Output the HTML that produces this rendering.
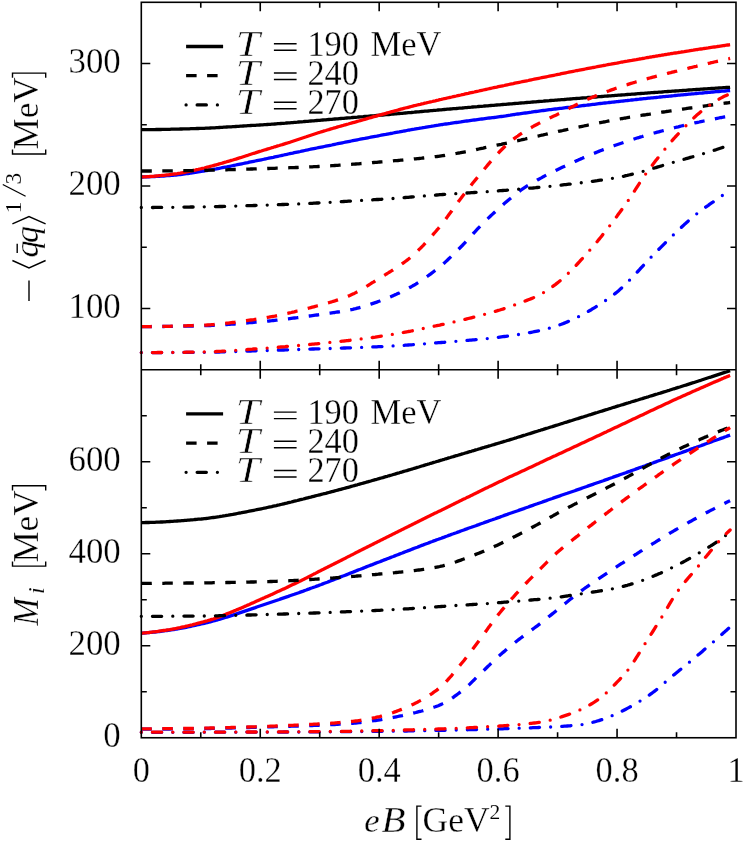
<!DOCTYPE html>
<html><head><meta charset="utf-8"><title>chart</title>
<style>
html,body{margin:0;padding:0;background:#fff;}
body{width:747px;height:843px;overflow:hidden;}
svg{display:block;will-change:transform;}
svg text{font-family:"Liberation Serif",serif;font-size:33.5px;fill:#000;stroke:#fff;stroke-width:0.3px;}
svg text.t{stroke-width:0.55px;}
svg text.s{stroke-width:0.1px;}
</style></head><body>
<svg width="747" height="843" viewBox="0 0 747 843">
<rect width="747" height="843" fill="#fff"/>
<g fill="none" stroke-width="3.3" stroke-linejoin="round">
<path d="M141.3 129.7 L142.8 129.7 L144.3 129.7 L145.8 129.7 L147.3 129.7 L148.8 129.6 L150.3 129.6 L151.8 129.6 L153.3 129.6 L154.8 129.6 L156.3 129.5 L157.8 129.5 L159.3 129.5 L160.8 129.5 L162.3 129.4 L163.8 129.4 L165.3 129.4 L166.8 129.3 L168.3 129.3 L169.8 129.3 L171.3 129.2 L172.8 129.2 L174.3 129.2 L175.8 129.1 L177.3 129.1 L178.8 129.1 L180.3 129.0 L181.8 129.0 L183.3 128.9 L184.8 128.9 L186.3 128.8 L187.8 128.8 L189.3 128.8 L190.8 128.7 L192.3 128.7 L193.8 128.6 L195.3 128.6 L196.8 128.5 L198.3 128.5 L199.8 128.4 L201.3 128.4 L202.8 128.3 L204.3 128.3 L205.8 128.2 L207.3 128.1 L208.8 128.1 L210.3 128.0 L211.8 127.9 L213.3 127.8 L214.8 127.8 L216.3 127.7 L217.8 127.6 L219.3 127.5 L220.8 127.4 L222.3 127.3 L223.8 127.2 L225.3 127.1 L226.8 127.0 L228.3 126.9 L229.8 126.9 L231.3 126.8 L232.8 126.7 L234.3 126.6 L235.8 126.5 L237.3 126.4 L238.8 126.3 L240.3 126.2 L241.8 126.1 L243.3 126.0 L244.8 125.9 L246.3 125.8 L247.8 125.7 L249.3 125.6 L250.8 125.5 L252.3 125.4 L253.8 125.3 L255.3 125.3 L256.8 125.2 L258.3 125.1 L259.8 125.0 L261.3 124.9 L262.8 124.8 L264.3 124.7 L265.8 124.6 L267.3 124.5 L268.8 124.4 L270.3 124.3 L271.8 124.2 L273.3 124.1 L274.8 124.0 L276.3 123.9 L277.8 123.7 L279.3 123.6 L280.8 123.5 L282.3 123.4 L283.8 123.3 L285.3 123.2 L286.8 123.0 L288.3 122.9 L289.8 122.8 L291.3 122.7 L292.8 122.6 L294.3 122.4 L295.8 122.3 L297.3 122.2 L298.8 122.0 L300.3 121.9 L301.8 121.8 L303.3 121.7 L304.8 121.5 L306.3 121.4 L307.8 121.3 L309.3 121.1 L310.8 121.0 L312.3 120.9 L313.8 120.8 L315.3 120.6 L316.8 120.5 L318.3 120.4 L319.8 120.3 L321.3 120.1 L322.8 120.0 L324.3 119.9 L325.8 119.8 L327.3 119.6 L328.8 119.5 L330.3 119.4 L331.8 119.3 L333.3 119.1 L334.8 119.0 L336.3 118.9 L337.8 118.8 L339.3 118.6 L340.8 118.5 L342.3 118.4 L343.8 118.3 L345.3 118.1 L346.8 118.0 L348.3 117.9 L349.8 117.8 L351.3 117.7 L352.8 117.5 L354.3 117.4 L355.8 117.3 L357.3 117.2 L358.8 117.0 L360.3 116.9 L361.8 116.8 L363.3 116.7 L364.8 116.5 L366.3 116.4 L367.8 116.3 L369.3 116.1 L370.8 116.0 L372.3 115.9 L373.8 115.8 L375.3 115.6 L376.8 115.5 L378.3 115.4 L379.8 115.2 L381.3 115.1 L382.8 115.0 L384.3 114.9 L385.8 114.7 L387.3 114.6 L388.8 114.5 L390.3 114.3 L391.8 114.2 L393.3 114.1 L394.8 113.9 L396.3 113.8 L397.8 113.7 L399.3 113.5 L400.8 113.4 L402.3 113.3 L403.8 113.1 L405.3 113.0 L406.8 112.9 L408.3 112.7 L409.8 112.6 L411.3 112.5 L412.8 112.3 L414.3 112.2 L415.8 112.0 L417.3 111.9 L418.8 111.8 L420.3 111.6 L421.8 111.5 L423.3 111.4 L424.8 111.2 L426.3 111.1 L427.8 111.0 L429.3 110.8 L430.8 110.7 L432.3 110.6 L433.8 110.4 L435.3 110.3 L436.8 110.2 L438.3 110.0 L439.8 109.9 L441.3 109.8 L442.8 109.6 L444.3 109.5 L445.8 109.4 L447.3 109.2 L448.8 109.1 L450.3 109.0 L451.8 108.9 L453.3 108.7 L454.8 108.6 L456.3 108.5 L457.8 108.3 L459.3 108.2 L460.8 108.1 L462.3 108.0 L463.8 107.8 L465.3 107.7 L466.8 107.6 L468.3 107.4 L469.8 107.3 L471.3 107.2 L472.8 107.0 L474.3 106.9 L475.8 106.8 L477.3 106.7 L478.8 106.5 L480.3 106.4 L481.8 106.3 L483.3 106.2 L484.8 106.0 L486.3 105.9 L487.8 105.8 L489.3 105.6 L490.8 105.5 L492.3 105.4 L493.8 105.3 L495.3 105.1 L496.8 105.0 L498.3 104.9 L499.8 104.8 L501.3 104.6 L502.8 104.5 L504.3 104.4 L505.8 104.3 L507.3 104.1 L508.8 104.0 L510.3 103.9 L511.8 103.8 L513.3 103.6 L514.8 103.5 L516.3 103.4 L517.8 103.3 L519.3 103.1 L520.8 103.0 L522.3 102.9 L523.8 102.8 L525.3 102.6 L526.8 102.5 L528.3 102.4 L529.8 102.3 L531.3 102.1 L532.8 102.0 L534.3 101.9 L535.8 101.8 L537.3 101.6 L538.8 101.5 L540.3 101.4 L541.8 101.3 L543.3 101.2 L544.8 101.0 L546.3 100.9 L547.8 100.8 L549.3 100.7 L550.8 100.5 L552.3 100.4 L553.8 100.3 L555.3 100.2 L556.8 100.1 L558.3 99.9 L559.8 99.8 L561.3 99.7 L562.8 99.6 L564.3 99.5 L565.8 99.3 L567.3 99.2 L568.8 99.1 L570.3 99.0 L571.8 98.9 L573.3 98.7 L574.8 98.6 L576.3 98.5 L577.8 98.4 L579.3 98.3 L580.8 98.1 L582.3 98.0 L583.8 97.9 L585.3 97.8 L586.8 97.7 L588.3 97.5 L589.8 97.4 L591.3 97.3 L592.8 97.2 L594.3 97.1 L595.8 97.0 L597.3 96.8 L598.8 96.7 L600.3 96.6 L601.8 96.5 L603.3 96.4 L604.8 96.2 L606.3 96.1 L607.8 96.0 L609.3 95.9 L610.8 95.8 L612.3 95.7 L613.8 95.6 L615.3 95.4 L616.8 95.3 L618.3 95.2 L619.8 95.1 L621.3 95.0 L622.8 94.9 L624.3 94.8 L625.8 94.6 L627.3 94.5 L628.8 94.4 L630.3 94.3 L631.8 94.2 L633.3 94.1 L634.8 94.0 L636.3 93.8 L637.8 93.7 L639.3 93.6 L640.8 93.5 L642.3 93.4 L643.8 93.3 L645.3 93.2 L646.8 93.1 L648.3 92.9 L649.8 92.8 L651.3 92.7 L652.8 92.6 L654.3 92.5 L655.8 92.4 L657.3 92.3 L658.8 92.2 L660.3 92.1 L661.8 92.0 L663.3 91.8 L664.8 91.7 L666.3 91.6 L667.8 91.5 L669.3 91.4 L670.8 91.3 L672.3 91.2 L673.8 91.1 L675.3 91.0 L676.8 90.9 L678.3 90.8 L679.8 90.7 L681.3 90.6 L682.8 90.5 L684.3 90.4 L685.8 90.3 L687.3 90.1 L688.8 90.0 L690.3 89.9 L691.8 89.8 L693.3 89.7 L694.8 89.6 L696.3 89.5 L697.8 89.4 L699.3 89.3 L700.8 89.2 L702.3 89.1 L703.8 89.0 L705.3 88.9 L706.8 88.8 L708.3 88.7 L709.8 88.6 L711.3 88.5 L712.8 88.4 L714.3 88.3 L715.8 88.2 L717.3 88.1 L718.8 88.0 L720.3 87.9 L721.8 87.8 L723.3 87.7 L724.8 87.6 L726.3 87.5 L727.8 87.4 L729.3 87.4 L730.1 87.3" stroke="#000000"/>
<path d="M141.3 177.0 L142.8 177.0 L144.3 176.9 L145.8 176.9 L147.3 176.9 L148.8 176.8 L150.3 176.7 L151.8 176.7 L153.3 176.6 L154.8 176.5 L156.3 176.4 L157.8 176.3 L159.3 176.3 L160.8 176.2 L162.3 176.1 L163.8 176.0 L165.3 175.9 L166.8 175.7 L168.3 175.6 L169.8 175.5 L171.3 175.4 L172.8 175.3 L174.3 175.1 L175.8 175.0 L177.3 174.8 L178.8 174.6 L180.3 174.5 L181.8 174.3 L183.3 174.1 L184.8 173.9 L186.3 173.7 L187.8 173.5 L189.3 173.3 L190.8 173.0 L192.3 172.8 L193.8 172.6 L195.3 172.4 L196.8 172.1 L198.3 171.9 L199.8 171.7 L201.3 171.4 L202.8 171.2 L204.3 171.0 L205.8 170.7 L207.3 170.5 L208.8 170.2 L210.3 169.9 L211.8 169.7 L213.3 169.4 L214.8 169.1 L216.3 168.9 L217.8 168.6 L219.3 168.3 L220.8 168.0 L222.3 167.7 L223.8 167.4 L225.3 167.1 L226.8 166.9 L228.3 166.6 L229.8 166.3 L231.3 166.0 L232.8 165.7 L234.3 165.3 L235.8 165.0 L237.3 164.7 L238.8 164.4 L240.3 164.1 L241.8 163.8 L243.3 163.5 L244.8 163.2 L246.3 162.9 L247.8 162.6 L249.3 162.2 L250.8 161.9 L252.3 161.6 L253.8 161.3 L255.3 161.0 L256.8 160.7 L258.3 160.4 L259.8 160.1 L261.3 159.8 L262.8 159.5 L264.3 159.2 L265.8 158.8 L267.3 158.5 L268.8 158.2 L270.3 157.9 L271.8 157.6 L273.3 157.3 L274.8 156.9 L276.3 156.6 L277.8 156.3 L279.3 156.0 L280.8 155.7 L282.3 155.3 L283.8 155.0 L285.3 154.7 L286.8 154.4 L288.3 154.0 L289.8 153.7 L291.3 153.4 L292.8 153.1 L294.3 152.7 L295.8 152.4 L297.3 152.1 L298.8 151.8 L300.3 151.5 L301.8 151.1 L303.3 150.8 L304.8 150.5 L306.3 150.2 L307.8 149.9 L309.3 149.5 L310.8 149.2 L312.3 148.9 L313.8 148.6 L315.3 148.3 L316.8 148.0 L318.3 147.7 L319.8 147.4 L321.3 147.1 L322.8 146.8 L324.3 146.5 L325.8 146.2 L327.3 145.9 L328.8 145.6 L330.3 145.3 L331.8 145.0 L333.3 144.6 L334.8 144.3 L336.3 144.0 L337.8 143.7 L339.3 143.4 L340.8 143.1 L342.3 142.8 L343.8 142.5 L345.3 142.2 L346.8 141.9 L348.3 141.6 L349.8 141.3 L351.3 141.0 L352.8 140.7 L354.3 140.4 L355.8 140.1 L357.3 139.8 L358.8 139.5 L360.3 139.2 L361.8 138.9 L363.3 138.6 L364.8 138.4 L366.3 138.1 L367.8 137.8 L369.3 137.5 L370.8 137.2 L372.3 136.9 L373.8 136.6 L375.3 136.3 L376.8 136.1 L378.3 135.8 L379.8 135.5 L381.3 135.2 L382.8 134.9 L384.3 134.6 L385.8 134.4 L387.3 134.1 L388.8 133.8 L390.3 133.5 L391.8 133.3 L393.3 133.0 L394.8 132.7 L396.3 132.4 L397.8 132.1 L399.3 131.9 L400.8 131.6 L402.3 131.3 L403.8 131.0 L405.3 130.8 L406.8 130.5 L408.3 130.2 L409.8 130.0 L411.3 129.7 L412.8 129.4 L414.3 129.2 L415.8 128.9 L417.3 128.6 L418.8 128.4 L420.3 128.1 L421.8 127.9 L423.3 127.6 L424.8 127.4 L426.3 127.1 L427.8 126.8 L429.3 126.6 L430.8 126.4 L432.3 126.1 L433.8 125.9 L435.3 125.6 L436.8 125.4 L438.3 125.2 L439.8 124.9 L441.3 124.7 L442.8 124.5 L444.3 124.2 L445.8 124.0 L447.3 123.8 L448.8 123.6 L450.3 123.4 L451.8 123.1 L453.3 122.9 L454.8 122.7 L456.3 122.5 L457.8 122.3 L459.3 122.1 L460.8 121.9 L462.3 121.6 L463.8 121.4 L465.3 121.2 L466.8 121.0 L468.3 120.8 L469.8 120.6 L471.3 120.4 L472.8 120.2 L474.3 120.0 L475.8 119.8 L477.3 119.6 L478.8 119.4 L480.3 119.2 L481.8 119.0 L483.3 118.8 L484.8 118.6 L486.3 118.4 L487.8 118.2 L489.3 118.0 L490.8 117.8 L492.3 117.6 L493.8 117.5 L495.3 117.3 L496.8 117.1 L498.3 116.9 L499.8 116.7 L501.3 116.5 L502.8 116.3 L504.3 116.1 L505.8 115.9 L507.3 115.6 L508.8 115.4 L510.3 115.2 L511.8 114.9 L513.3 114.7 L514.8 114.5 L516.3 114.2 L517.8 114.0 L519.3 113.8 L520.8 113.6 L522.3 113.4 L523.8 113.2 L525.3 113.0 L526.8 112.8 L528.3 112.6 L529.8 112.4 L531.3 112.2 L532.8 111.9 L534.3 111.7 L535.8 111.5 L537.3 111.3 L538.8 111.1 L540.3 110.9 L541.8 110.7 L543.3 110.5 L544.8 110.3 L546.3 110.1 L547.8 109.9 L549.3 109.7 L550.8 109.6 L552.3 109.4 L553.8 109.2 L555.3 109.0 L556.8 108.8 L558.3 108.6 L559.8 108.4 L561.3 108.3 L562.8 108.1 L564.3 107.9 L565.8 107.7 L567.3 107.5 L568.8 107.3 L570.3 107.2 L571.8 107.0 L573.3 106.8 L574.8 106.6 L576.3 106.4 L577.8 106.3 L579.3 106.1 L580.8 105.9 L582.3 105.7 L583.8 105.5 L585.3 105.3 L586.8 105.2 L588.3 105.0 L589.8 104.8 L591.3 104.6 L592.8 104.4 L594.3 104.3 L595.8 104.1 L597.3 103.9 L598.8 103.7 L600.3 103.5 L601.8 103.4 L603.3 103.2 L604.8 103.0 L606.3 102.8 L607.8 102.7 L609.3 102.5 L610.8 102.3 L612.3 102.1 L613.8 102.0 L615.3 101.8 L616.8 101.6 L618.3 101.5 L619.8 101.3 L621.3 101.1 L622.8 101.0 L624.3 100.8 L625.8 100.6 L627.3 100.5 L628.8 100.3 L630.3 100.2 L631.8 100.0 L633.3 99.8 L634.8 99.7 L636.3 99.5 L637.8 99.3 L639.3 99.2 L640.8 99.0 L642.3 98.9 L643.8 98.7 L645.3 98.6 L646.8 98.4 L648.3 98.2 L649.8 98.1 L651.3 97.9 L652.8 97.8 L654.3 97.6 L655.8 97.5 L657.3 97.3 L658.8 97.2 L660.3 97.0 L661.8 96.9 L663.3 96.7 L664.8 96.6 L666.3 96.4 L667.8 96.3 L669.3 96.1 L670.8 96.0 L672.3 95.8 L673.8 95.7 L675.3 95.5 L676.8 95.4 L678.3 95.2 L679.8 95.1 L681.3 94.9 L682.8 94.8 L684.3 94.6 L685.8 94.5 L687.3 94.4 L688.8 94.2 L690.3 94.1 L691.8 93.9 L693.3 93.8 L694.8 93.7 L696.3 93.5 L697.8 93.4 L699.3 93.2 L700.8 93.1 L702.3 93.0 L703.8 92.8 L705.3 92.7 L706.8 92.6 L708.3 92.4 L709.8 92.3 L711.3 92.1 L712.8 92.0 L714.3 91.9 L715.8 91.7 L717.3 91.6 L718.8 91.5 L720.3 91.3 L721.8 91.2 L723.3 91.1 L724.8 91.0 L726.3 90.8 L727.8 90.7 L729.3 90.6 L730.1 90.5" stroke="#0000ff"/>
<path d="M141.3 177.0 L142.8 176.9 L144.3 176.9 L145.8 176.8 L147.3 176.7 L148.8 176.6 L150.3 176.5 L151.8 176.4 L153.3 176.3 L154.8 176.1 L156.3 176.0 L157.8 175.9 L159.3 175.7 L160.8 175.6 L162.3 175.4 L163.8 175.3 L165.3 175.1 L166.8 174.9 L168.3 174.8 L169.8 174.6 L171.3 174.4 L172.8 174.2 L174.3 174.0 L175.8 173.8 L177.3 173.6 L178.8 173.3 L180.3 173.1 L181.8 172.8 L183.3 172.5 L184.8 172.3 L186.3 172.0 L187.8 171.7 L189.3 171.3 L190.8 171.0 L192.3 170.7 L193.8 170.4 L195.3 170.1 L196.8 169.7 L198.3 169.4 L199.8 169.0 L201.3 168.7 L202.8 168.3 L204.3 168.0 L205.8 167.6 L207.3 167.2 L208.8 166.8 L210.3 166.4 L211.8 166.0 L213.3 165.6 L214.8 165.2 L216.3 164.8 L217.8 164.4 L219.3 163.9 L220.8 163.5 L222.3 163.1 L223.8 162.6 L225.3 162.2 L226.8 161.7 L228.3 161.3 L229.8 160.9 L231.3 160.4 L232.8 160.0 L234.3 159.5 L235.8 159.1 L237.3 158.6 L238.8 158.1 L240.3 157.7 L241.8 157.2 L243.3 156.7 L244.8 156.2 L246.3 155.7 L247.8 155.3 L249.3 154.8 L250.8 154.3 L252.3 153.8 L253.8 153.3 L255.3 152.9 L256.8 152.4 L258.3 151.9 L259.8 151.4 L261.3 151.0 L262.8 150.5 L264.3 150.0 L265.8 149.6 L267.3 149.1 L268.8 148.7 L270.3 148.2 L271.8 147.7 L273.3 147.3 L274.8 146.8 L276.3 146.4 L277.8 145.9 L279.3 145.5 L280.8 145.0 L282.3 144.6 L283.8 144.1 L285.3 143.6 L286.8 143.2 L288.3 142.7 L289.8 142.3 L291.3 141.8 L292.8 141.3 L294.3 140.8 L295.8 140.3 L297.3 139.8 L298.8 139.3 L300.3 138.8 L301.8 138.3 L303.3 137.8 L304.8 137.3 L306.3 136.8 L307.8 136.2 L309.3 135.7 L310.8 135.2 L312.3 134.7 L313.8 134.2 L315.3 133.7 L316.8 133.2 L318.3 132.7 L319.8 132.3 L321.3 131.8 L322.8 131.4 L324.3 130.9 L325.8 130.5 L327.3 130.0 L328.8 129.6 L330.3 129.1 L331.8 128.7 L333.3 128.2 L334.8 127.8 L336.3 127.4 L337.8 126.9 L339.3 126.5 L340.8 126.1 L342.3 125.7 L343.8 125.2 L345.3 124.8 L346.8 124.4 L348.3 124.0 L349.8 123.5 L351.3 123.1 L352.8 122.7 L354.3 122.3 L355.8 121.9 L357.3 121.4 L358.8 121.0 L360.3 120.6 L361.8 120.2 L363.3 119.7 L364.8 119.3 L366.3 118.9 L367.8 118.4 L369.3 118.0 L370.8 117.6 L372.3 117.1 L373.8 116.7 L375.3 116.3 L376.8 115.9 L378.3 115.4 L379.8 115.0 L381.3 114.6 L382.8 114.2 L384.3 113.8 L385.8 113.4 L387.3 112.9 L388.8 112.5 L390.3 112.1 L391.8 111.7 L393.3 111.3 L394.8 110.9 L396.3 110.5 L397.8 110.1 L399.3 109.6 L400.8 109.2 L402.3 108.8 L403.8 108.4 L405.3 108.0 L406.8 107.7 L408.3 107.3 L409.8 106.9 L411.3 106.5 L412.8 106.1 L414.3 105.7 L415.8 105.4 L417.3 105.0 L418.8 104.6 L420.3 104.3 L421.8 103.9 L423.3 103.6 L424.8 103.2 L426.3 102.9 L427.8 102.5 L429.3 102.2 L430.8 101.8 L432.3 101.5 L433.8 101.1 L435.3 100.8 L436.8 100.4 L438.3 100.1 L439.8 99.7 L441.3 99.4 L442.8 99.0 L444.3 98.7 L445.8 98.4 L447.3 98.0 L448.8 97.7 L450.3 97.3 L451.8 97.0 L453.3 96.6 L454.8 96.3 L456.3 96.0 L457.8 95.6 L459.3 95.3 L460.8 95.0 L462.3 94.6 L463.8 94.3 L465.3 93.9 L466.8 93.6 L468.3 93.3 L469.8 92.9 L471.3 92.6 L472.8 92.3 L474.3 92.0 L475.8 91.6 L477.3 91.3 L478.8 91.0 L480.3 90.6 L481.8 90.3 L483.3 90.0 L484.8 89.7 L486.3 89.3 L487.8 89.0 L489.3 88.7 L490.8 88.3 L492.3 88.0 L493.8 87.7 L495.3 87.4 L496.8 87.1 L498.3 86.7 L499.8 86.4 L501.3 86.1 L502.8 85.8 L504.3 85.5 L505.8 85.1 L507.3 84.8 L508.8 84.5 L510.3 84.2 L511.8 83.9 L513.3 83.6 L514.8 83.2 L516.3 82.9 L517.8 82.6 L519.3 82.3 L520.8 82.0 L522.3 81.7 L523.8 81.4 L525.3 81.1 L526.8 80.8 L528.3 80.5 L529.8 80.1 L531.3 79.8 L532.8 79.5 L534.3 79.2 L535.8 78.9 L537.3 78.6 L538.8 78.3 L540.3 78.0 L541.8 77.7 L543.3 77.4 L544.8 77.1 L546.3 76.8 L547.8 76.5 L549.3 76.2 L550.8 75.9 L552.3 75.6 L553.8 75.3 L555.3 75.0 L556.8 74.7 L558.3 74.4 L559.8 74.1 L561.3 73.7 L562.8 73.4 L564.3 73.1 L565.8 72.8 L567.3 72.5 L568.8 72.2 L570.3 71.9 L571.8 71.6 L573.3 71.3 L574.8 71.0 L576.3 70.7 L577.8 70.5 L579.3 70.2 L580.8 69.9 L582.3 69.6 L583.8 69.3 L585.3 69.0 L586.8 68.7 L588.3 68.4 L589.8 68.1 L591.3 67.8 L592.8 67.5 L594.3 67.3 L595.8 67.0 L597.3 66.7 L598.8 66.4 L600.3 66.1 L601.8 65.8 L603.3 65.5 L604.8 65.3 L606.3 65.0 L607.8 64.7 L609.3 64.4 L610.8 64.2 L612.3 63.9 L613.8 63.6 L615.3 63.3 L616.8 63.1 L618.3 62.8 L619.8 62.5 L621.3 62.2 L622.8 62.0 L624.3 61.7 L625.8 61.4 L627.3 61.2 L628.8 60.9 L630.3 60.6 L631.8 60.4 L633.3 60.1 L634.8 59.8 L636.3 59.6 L637.8 59.3 L639.3 59.0 L640.8 58.8 L642.3 58.5 L643.8 58.3 L645.3 58.0 L646.8 57.7 L648.3 57.5 L649.8 57.2 L651.3 57.0 L652.8 56.7 L654.3 56.5 L655.8 56.2 L657.3 56.0 L658.8 55.7 L660.3 55.5 L661.8 55.2 L663.3 55.0 L664.8 54.7 L666.3 54.5 L667.8 54.2 L669.3 54.0 L670.8 53.7 L672.3 53.5 L673.8 53.2 L675.3 53.0 L676.8 52.8 L678.3 52.5 L679.8 52.3 L681.3 52.0 L682.8 51.8 L684.3 51.6 L685.8 51.3 L687.3 51.1 L688.8 50.9 L690.3 50.6 L691.8 50.4 L693.3 50.2 L694.8 49.9 L696.3 49.7 L697.8 49.5 L699.3 49.2 L700.8 49.0 L702.3 48.8 L703.8 48.5 L705.3 48.3 L706.8 48.1 L708.3 47.9 L709.8 47.6 L711.3 47.4 L712.8 47.2 L714.3 47.0 L715.8 46.8 L717.3 46.5 L718.8 46.3 L720.3 46.1 L721.8 45.9 L723.3 45.7 L724.8 45.5 L726.3 45.2 L727.8 45.0 L729.3 44.8 L730.1 44.7" stroke="#ff0000"/>
<path d="M141.3 171.0 L142.8 171.0 L144.3 171.0 L145.8 171.0 L147.3 171.0 L148.8 171.0 L150.3 171.0 L151.8 171.0 L153.3 171.0 L154.8 171.0 L156.3 171.0 L157.8 170.9 L159.3 170.9 L160.8 170.9 L162.3 170.9 L163.8 170.9 L165.3 170.9 L166.8 170.9 L168.3 170.9 L169.8 170.9 L171.3 170.8 L172.8 170.8 L174.3 170.8 L175.8 170.8 L177.3 170.8 L178.8 170.8 L180.3 170.7 L181.8 170.7 L183.3 170.7 L184.8 170.7 L186.3 170.7 L187.8 170.6 L189.3 170.6 L190.8 170.6 L192.3 170.6 L193.8 170.5 L195.3 170.5 L196.8 170.5 L198.3 170.5 L199.8 170.4 L201.3 170.4 L202.8 170.4 L204.3 170.3 L205.8 170.3 L207.3 170.3 L208.8 170.2 L210.3 170.2 L211.8 170.2 L213.3 170.1 L214.8 170.1 L216.3 170.0 L217.8 170.0 L219.3 170.0 L220.8 169.9 L222.3 169.9 L223.8 169.8 L225.3 169.8 L226.8 169.8 L228.3 169.7 L229.8 169.7 L231.3 169.6 L232.8 169.6 L234.3 169.5 L235.8 169.5 L237.3 169.5 L238.8 169.4 L240.3 169.4 L241.8 169.3 L243.3 169.3 L244.8 169.2 L246.3 169.2 L247.8 169.1 L249.3 169.1 L250.8 169.0 L252.3 169.0 L253.8 168.9 L255.3 168.9 L256.8 168.8 L258.3 168.8 L259.8 168.8 L261.3 168.7 L262.8 168.7 L264.3 168.6 L265.8 168.6 L267.3 168.5 L268.8 168.5 L270.3 168.4 L271.8 168.4 L273.3 168.3 L274.8 168.3 L276.3 168.2 L277.8 168.2 L279.3 168.1 L280.8 168.1 L282.3 168.0 L283.8 168.0 L285.3 167.9 L286.8 167.9 L288.3 167.8 L289.8 167.7 L291.3 167.7 L292.8 167.6 L294.3 167.6 L295.8 167.5 L297.3 167.5 L298.8 167.4 L300.3 167.3 L301.8 167.3 L303.3 167.2 L304.8 167.1 L306.3 167.1 L307.8 167.0 L309.3 166.9 L310.8 166.9 L312.3 166.8 L313.8 166.7 L315.3 166.6 L316.8 166.6 L318.3 166.5 L319.8 166.4 L321.3 166.3 L322.8 166.2 L324.3 166.2 L325.8 166.1 L327.3 166.0 L328.8 165.9 L330.3 165.8 L331.8 165.7 L333.3 165.6 L334.8 165.5 L336.3 165.4 L337.8 165.3 L339.3 165.2 L340.8 165.1 L342.3 165.0 L343.8 164.9 L345.3 164.8 L346.8 164.7 L348.3 164.6 L349.8 164.5 L351.3 164.4 L352.8 164.2 L354.3 164.1 L355.8 164.0 L357.3 163.9 L358.8 163.8 L360.3 163.6 L361.8 163.5 L363.3 163.4 L364.8 163.3 L366.3 163.2 L367.8 163.0 L369.3 162.9 L370.8 162.8 L372.3 162.6 L373.8 162.5 L375.3 162.4 L376.8 162.3 L378.3 162.1 L379.8 162.0 L381.3 161.9 L382.8 161.8 L384.3 161.6 L385.8 161.5 L387.3 161.4 L388.8 161.2 L390.3 161.1 L391.8 161.0 L393.3 160.8 L394.8 160.7 L396.3 160.6 L397.8 160.5 L399.3 160.3 L400.8 160.2 L402.3 160.1 L403.8 159.9 L405.3 159.8 L406.8 159.6 L408.3 159.5 L409.8 159.4 L411.3 159.2 L412.8 159.1 L414.3 158.9 L415.8 158.8 L417.3 158.6 L418.8 158.5 L420.3 158.3 L421.8 158.2 L423.3 158.0 L424.8 157.8 L426.3 157.7 L427.8 157.5 L429.3 157.3 L430.8 157.2 L432.3 157.0 L433.8 156.8 L435.3 156.6 L436.8 156.5 L438.3 156.3 L439.8 156.1 L441.3 155.9 L442.8 155.7 L444.3 155.5 L445.8 155.2 L447.3 155.0 L448.8 154.8 L450.3 154.5 L451.8 154.3 L453.3 154.0 L454.8 153.8 L456.3 153.5 L457.8 153.2 L459.3 153.0 L460.8 152.7 L462.3 152.4 L463.8 152.1 L465.3 151.8 L466.8 151.5 L468.3 151.2 L469.8 150.9 L471.3 150.6 L472.8 150.3 L474.3 150.0 L475.8 149.7 L477.3 149.3 L478.8 149.0 L480.3 148.7 L481.8 148.4 L483.3 148.1 L484.8 147.7 L486.3 147.4 L487.8 147.1 L489.3 146.8 L490.8 146.5 L492.3 146.1 L493.8 145.8 L495.3 145.5 L496.8 145.2 L498.3 144.9 L499.8 144.6 L501.3 144.3 L502.8 143.9 L504.3 143.6 L505.8 143.3 L507.3 143.0 L508.8 142.6 L510.3 142.3 L511.8 142.0 L513.3 141.7 L514.8 141.3 L516.3 141.0 L517.8 140.7 L519.3 140.3 L520.8 140.0 L522.3 139.6 L523.8 139.3 L525.3 139.0 L526.8 138.6 L528.3 138.3 L529.8 137.9 L531.3 137.6 L532.8 137.2 L534.3 136.9 L535.8 136.6 L537.3 136.2 L538.8 135.9 L540.3 135.5 L541.8 135.2 L543.3 134.9 L544.8 134.5 L546.3 134.2 L547.8 133.8 L549.3 133.5 L550.8 133.1 L552.3 132.8 L553.8 132.4 L555.3 132.1 L556.8 131.8 L558.3 131.4 L559.8 131.1 L561.3 130.8 L562.8 130.5 L564.3 130.1 L565.8 129.8 L567.3 129.5 L568.8 129.2 L570.3 128.8 L571.8 128.5 L573.3 128.2 L574.8 127.9 L576.3 127.6 L577.8 127.2 L579.3 126.9 L580.8 126.6 L582.3 126.3 L583.8 126.0 L585.3 125.7 L586.8 125.4 L588.3 125.0 L589.8 124.7 L591.3 124.4 L592.8 124.1 L594.3 123.8 L595.8 123.5 L597.3 123.2 L598.8 122.9 L600.3 122.6 L601.8 122.3 L603.3 122.0 L604.8 121.8 L606.3 121.5 L607.8 121.2 L609.3 120.9 L610.8 120.6 L612.3 120.3 L613.8 120.1 L615.3 119.8 L616.8 119.5 L618.3 119.3 L619.8 119.0 L621.3 118.7 L622.8 118.5 L624.3 118.2 L625.8 118.0 L627.3 117.7 L628.8 117.4 L630.3 117.2 L631.8 116.9 L633.3 116.7 L634.8 116.5 L636.3 116.2 L637.8 116.0 L639.3 115.7 L640.8 115.5 L642.3 115.2 L643.8 115.0 L645.3 114.8 L646.8 114.5 L648.3 114.3 L649.8 114.1 L651.3 113.8 L652.8 113.6 L654.3 113.4 L655.8 113.1 L657.3 112.9 L658.8 112.7 L660.3 112.5 L661.8 112.2 L663.3 112.0 L664.8 111.8 L666.3 111.5 L667.8 111.3 L669.3 111.1 L670.8 110.9 L672.3 110.7 L673.8 110.4 L675.3 110.2 L676.8 110.0 L678.3 109.8 L679.8 109.5 L681.3 109.3 L682.8 109.1 L684.3 108.9 L685.8 108.7 L687.3 108.4 L688.8 108.2 L690.3 108.0 L691.8 107.8 L693.3 107.6 L694.8 107.4 L696.3 107.1 L697.8 106.9 L699.3 106.7 L700.8 106.5 L702.3 106.3 L703.8 106.1 L705.3 105.9 L706.8 105.7 L708.3 105.4 L709.8 105.2 L711.3 105.0 L712.8 104.8 L714.3 104.6 L715.8 104.4 L717.3 104.2 L718.8 104.0 L720.3 103.8 L721.8 103.6 L723.3 103.4 L724.8 103.2 L726.3 103.0 L727.8 102.8 L729.3 102.6 L730.1 102.5" stroke="#000000" stroke-dasharray="10.5 10.5"/>
<path d="M141.3 326.6 L142.8 326.6 L144.3 326.6 L145.8 326.6 L147.3 326.6 L148.8 326.6 L150.3 326.6 L151.8 326.6 L153.3 326.6 L154.8 326.5 L156.3 326.5 L157.8 326.5 L159.3 326.5 L160.8 326.5 L162.3 326.5 L163.8 326.5 L165.3 326.4 L166.8 326.4 L168.3 326.4 L169.8 326.4 L171.3 326.4 L172.8 326.3 L174.3 326.3 L175.8 326.3 L177.3 326.3 L178.8 326.2 L180.3 326.2 L181.8 326.2 L183.3 326.2 L184.8 326.1 L186.3 326.1 L187.8 326.1 L189.3 326.0 L190.8 326.0 L192.3 326.0 L193.8 326.0 L195.3 325.9 L196.8 325.9 L198.3 325.9 L199.8 325.8 L201.3 325.8 L202.8 325.8 L204.3 325.7 L205.8 325.7 L207.3 325.6 L208.8 325.5 L210.3 325.5 L211.8 325.4 L213.3 325.3 L214.8 325.3 L216.3 325.2 L217.8 325.1 L219.3 325.0 L220.8 324.9 L222.3 324.8 L223.8 324.7 L225.3 324.6 L226.8 324.5 L228.3 324.4 L229.8 324.3 L231.3 324.2 L232.8 324.1 L234.3 324.0 L235.8 323.9 L237.3 323.8 L238.8 323.6 L240.3 323.5 L241.8 323.4 L243.3 323.3 L244.8 323.1 L246.3 323.0 L247.8 322.9 L249.3 322.7 L250.8 322.6 L252.3 322.5 L253.8 322.4 L255.3 322.2 L256.8 322.1 L258.3 322.0 L259.8 321.8 L261.3 321.7 L262.8 321.6 L264.3 321.4 L265.8 321.3 L267.3 321.1 L268.8 321.0 L270.3 320.8 L271.8 320.7 L273.3 320.5 L274.8 320.4 L276.3 320.2 L277.8 320.0 L279.3 319.9 L280.8 319.7 L282.3 319.5 L283.8 319.3 L285.3 319.2 L286.8 319.0 L288.3 318.8 L289.8 318.6 L291.3 318.4 L292.8 318.2 L294.3 318.0 L295.8 317.8 L297.3 317.7 L298.8 317.5 L300.3 317.3 L301.8 317.1 L303.3 316.9 L304.8 316.7 L306.3 316.5 L307.8 316.2 L309.3 316.0 L310.8 315.8 L312.3 315.6 L313.8 315.4 L315.3 315.2 L316.8 315.0 L318.3 314.8 L319.8 314.6 L321.3 314.4 L322.8 314.2 L324.3 314.0 L325.8 313.8 L327.3 313.5 L328.8 313.3 L330.3 313.1 L331.8 312.9 L333.3 312.7 L334.8 312.5 L336.3 312.2 L337.8 312.0 L339.3 311.8 L340.8 311.5 L342.3 311.3 L343.8 311.0 L345.3 310.7 L346.8 310.5 L348.3 310.2 L349.8 309.9 L351.3 309.6 L352.8 309.3 L354.3 308.9 L355.8 308.6 L357.3 308.2 L358.8 307.8 L360.3 307.4 L361.8 307.0 L363.3 306.5 L364.8 306.1 L366.3 305.6 L367.8 305.1 L369.3 304.6 L370.8 304.1 L372.3 303.6 L373.8 303.1 L375.3 302.6 L376.8 302.1 L378.3 301.5 L379.8 301.0 L381.3 300.4 L382.8 299.9 L384.3 299.3 L385.8 298.7 L387.3 298.1 L388.8 297.5 L390.3 296.9 L391.8 296.2 L393.3 295.6 L394.8 294.9 L396.3 294.3 L397.8 293.6 L399.3 292.9 L400.8 292.1 L402.3 291.4 L403.8 290.7 L405.3 289.9 L406.8 289.1 L408.3 288.3 L409.8 287.5 L411.3 286.7 L412.8 285.8 L414.3 285.0 L415.8 284.1 L417.3 283.1 L418.8 282.2 L420.3 281.2 L421.8 280.2 L423.3 279.2 L424.8 278.1 L426.3 277.1 L427.8 276.0 L429.3 274.9 L430.8 273.8 L432.3 272.7 L433.8 271.5 L435.3 270.4 L436.8 269.2 L438.3 268.0 L439.8 266.8 L441.3 265.6 L442.8 264.3 L444.3 263.0 L445.8 261.6 L447.3 260.2 L448.8 258.8 L450.3 257.4 L451.8 256.0 L453.3 254.5 L454.8 253.0 L456.3 251.5 L457.8 250.0 L459.3 248.5 L460.8 247.0 L462.3 245.5 L463.8 243.9 L465.3 242.3 L466.8 240.7 L468.3 239.1 L469.8 237.4 L471.3 235.8 L472.8 234.1 L474.3 232.5 L475.8 230.8 L477.3 229.2 L478.8 227.6 L480.3 226.1 L481.8 224.6 L483.3 223.1 L484.8 221.6 L486.3 220.1 L487.8 218.7 L489.3 217.2 L490.8 215.8 L492.3 214.4 L493.8 213.0 L495.3 211.6 L496.8 210.2 L498.3 208.9 L499.8 207.6 L501.3 206.2 L502.8 204.9 L504.3 203.6 L505.8 202.3 L507.3 201.0 L508.8 199.7 L510.3 198.5 L511.8 197.2 L513.3 196.0 L514.8 194.8 L516.3 193.6 L517.8 192.5 L519.3 191.3 L520.8 190.2 L522.3 189.2 L523.8 188.2 L525.3 187.2 L526.8 186.2 L528.3 185.3 L529.8 184.4 L531.3 183.5 L532.8 182.6 L534.3 181.7 L535.8 180.9 L537.3 180.0 L538.8 179.2 L540.3 178.4 L541.8 177.6 L543.3 176.7 L544.8 175.9 L546.3 175.1 L547.8 174.4 L549.3 173.6 L550.8 172.8 L552.3 172.1 L553.8 171.3 L555.3 170.6 L556.8 169.9 L558.3 169.2 L559.8 168.5 L561.3 167.8 L562.8 167.1 L564.3 166.4 L565.8 165.7 L567.3 165.0 L568.8 164.3 L570.3 163.6 L571.8 162.9 L573.3 162.3 L574.8 161.6 L576.3 160.9 L577.8 160.3 L579.3 159.6 L580.8 158.9 L582.3 158.3 L583.8 157.6 L585.3 157.0 L586.8 156.4 L588.3 155.7 L589.8 155.1 L591.3 154.5 L592.8 153.8 L594.3 153.2 L595.8 152.6 L597.3 152.0 L598.8 151.4 L600.3 150.8 L601.8 150.2 L603.3 149.6 L604.8 149.1 L606.3 148.5 L607.8 147.9 L609.3 147.4 L610.8 146.8 L612.3 146.3 L613.8 145.8 L615.3 145.2 L616.8 144.7 L618.3 144.2 L619.8 143.7 L621.3 143.2 L622.8 142.7 L624.3 142.2 L625.8 141.7 L627.3 141.2 L628.8 140.7 L630.3 140.2 L631.8 139.7 L633.3 139.3 L634.8 138.8 L636.3 138.3 L637.8 137.8 L639.3 137.4 L640.8 136.9 L642.3 136.5 L643.8 136.0 L645.3 135.6 L646.8 135.1 L648.3 134.7 L649.8 134.3 L651.3 133.8 L652.8 133.4 L654.3 133.0 L655.8 132.6 L657.3 132.2 L658.8 131.8 L660.3 131.4 L661.8 131.0 L663.3 130.6 L664.8 130.2 L666.3 129.8 L667.8 129.4 L669.3 129.0 L670.8 128.6 L672.3 128.2 L673.8 127.9 L675.3 127.5 L676.8 127.1 L678.3 126.8 L679.8 126.4 L681.3 126.0 L682.8 125.7 L684.3 125.3 L685.8 125.0 L687.3 124.6 L688.8 124.3 L690.3 124.0 L691.8 123.6 L693.3 123.3 L694.8 122.9 L696.3 122.6 L697.8 122.3 L699.3 122.0 L700.8 121.6 L702.3 121.3 L703.8 121.0 L705.3 120.7 L706.8 120.4 L708.3 120.1 L709.8 119.8 L711.3 119.5 L712.8 119.2 L714.3 118.9 L715.8 118.6 L717.3 118.3 L718.8 118.0 L720.3 117.7 L721.8 117.5 L723.3 117.2 L724.8 116.9 L726.3 116.7 L727.8 116.4 L729.3 116.1 L730.1 116.0" stroke="#0000ff" stroke-dasharray="10.5 10.5"/>
<path d="M141.3 326.6 L142.8 326.6 L144.3 326.6 L145.8 326.6 L147.3 326.6 L148.8 326.6 L150.3 326.6 L151.8 326.5 L153.3 326.5 L154.8 326.5 L156.3 326.5 L157.8 326.5 L159.3 326.5 L160.8 326.4 L162.3 326.4 L163.8 326.4 L165.3 326.3 L166.8 326.3 L168.3 326.3 L169.8 326.3 L171.3 326.2 L172.8 326.2 L174.3 326.1 L175.8 326.1 L177.3 326.1 L178.8 326.0 L180.3 326.0 L181.8 325.9 L183.3 325.9 L184.8 325.8 L186.3 325.8 L187.8 325.7 L189.3 325.7 L190.8 325.7 L192.3 325.6 L193.8 325.5 L195.3 325.5 L196.8 325.4 L198.3 325.4 L199.8 325.3 L201.3 325.3 L202.8 325.2 L204.3 325.1 L205.8 325.1 L207.3 325.0 L208.8 324.9 L210.3 324.8 L211.8 324.7 L213.3 324.6 L214.8 324.4 L216.3 324.3 L217.8 324.2 L219.3 324.0 L220.8 323.9 L222.3 323.7 L223.8 323.6 L225.3 323.4 L226.8 323.2 L228.3 323.1 L229.8 322.9 L231.3 322.7 L232.8 322.5 L234.3 322.3 L235.8 322.1 L237.3 321.9 L238.8 321.7 L240.3 321.5 L241.8 321.3 L243.3 321.1 L244.8 320.9 L246.3 320.7 L247.8 320.4 L249.3 320.2 L250.8 320.0 L252.3 319.8 L253.8 319.6 L255.3 319.3 L256.8 319.1 L258.3 318.9 L259.8 318.7 L261.3 318.4 L262.8 318.2 L264.3 318.0 L265.8 317.7 L267.3 317.4 L268.8 317.2 L270.3 316.9 L271.8 316.6 L273.3 316.3 L274.8 316.1 L276.3 315.8 L277.8 315.5 L279.3 315.1 L280.8 314.8 L282.3 314.5 L283.8 314.2 L285.3 313.8 L286.8 313.5 L288.3 313.2 L289.8 312.8 L291.3 312.5 L292.8 312.1 L294.3 311.8 L295.8 311.4 L297.3 311.0 L298.8 310.7 L300.3 310.3 L301.8 309.9 L303.3 309.5 L304.8 309.1 L306.3 308.8 L307.8 308.4 L309.3 308.0 L310.8 307.6 L312.3 307.2 L313.8 306.8 L315.3 306.4 L316.8 306.0 L318.3 305.6 L319.8 305.2 L321.3 304.8 L322.8 304.4 L324.3 303.9 L325.8 303.5 L327.3 303.1 L328.8 302.7 L330.3 302.2 L331.8 301.8 L333.3 301.3 L334.8 300.9 L336.3 300.4 L337.8 299.9 L339.3 299.4 L340.8 298.9 L342.3 298.4 L343.8 297.8 L345.3 297.3 L346.8 296.7 L348.3 296.1 L349.8 295.5 L351.3 294.8 L352.8 294.1 L354.3 293.4 L355.8 292.6 L357.3 291.8 L358.8 291.0 L360.3 290.1 L361.8 289.3 L363.3 288.4 L364.8 287.4 L366.3 286.5 L367.8 285.6 L369.3 284.6 L370.8 283.7 L372.3 282.7 L373.8 281.8 L375.3 280.8 L376.8 279.9 L378.3 279.0 L379.8 278.0 L381.3 277.1 L382.8 276.2 L384.3 275.3 L385.8 274.4 L387.3 273.5 L388.8 272.5 L390.3 271.6 L391.8 270.7 L393.3 269.7 L394.8 268.8 L396.3 267.8 L397.8 266.8 L399.3 265.8 L400.8 264.8 L402.3 263.7 L403.8 262.6 L405.3 261.5 L406.8 260.4 L408.3 259.2 L409.8 258.0 L411.3 256.7 L412.8 255.4 L414.3 254.1 L415.8 252.7 L417.3 251.3 L418.8 249.8 L420.3 248.4 L421.8 246.8 L423.3 245.3 L424.8 243.7 L426.3 242.1 L427.8 240.4 L429.3 238.8 L430.8 237.1 L432.3 235.4 L433.8 233.7 L435.3 232.0 L436.8 230.2 L438.3 228.5 L439.8 226.7 L441.3 224.8 L442.8 222.9 L444.3 221.0 L445.8 219.0 L447.3 216.9 L448.8 214.8 L450.3 212.8 L451.8 210.7 L453.3 208.6 L454.8 206.5 L456.3 204.4 L457.8 202.4 L459.3 200.4 L460.8 198.5 L462.3 196.5 L463.8 194.6 L465.3 192.6 L466.8 190.7 L468.3 188.8 L469.8 186.9 L471.3 185.0 L472.8 183.1 L474.3 181.2 L475.8 179.4 L477.3 177.5 L478.8 175.7 L480.3 173.9 L481.8 172.1 L483.3 170.3 L484.8 168.5 L486.3 166.7 L487.8 164.9 L489.3 163.1 L490.8 161.4 L492.3 159.7 L493.8 158.0 L495.3 156.3 L496.8 154.7 L498.3 153.1 L499.8 151.5 L501.3 150.0 L502.8 148.5 L504.3 147.0 L505.8 145.5 L507.3 144.2 L508.8 142.8 L510.3 141.6 L511.8 140.4 L513.3 139.2 L514.8 138.1 L516.3 137.0 L517.8 136.0 L519.3 134.9 L520.8 133.9 L522.3 132.9 L523.8 131.9 L525.3 131.0 L526.8 130.1 L528.3 129.2 L529.8 128.3 L531.3 127.5 L532.8 126.6 L534.3 125.8 L535.8 125.0 L537.3 124.2 L538.8 123.4 L540.3 122.6 L541.8 121.8 L543.3 121.1 L544.8 120.3 L546.3 119.6 L547.8 118.9 L549.3 118.2 L550.8 117.5 L552.3 116.8 L553.8 116.1 L555.3 115.4 L556.8 114.7 L558.3 113.9 L559.8 113.2 L561.3 112.4 L562.8 111.7 L564.3 110.9 L565.8 110.1 L567.3 109.3 L568.8 108.6 L570.3 107.8 L571.8 107.0 L573.3 106.2 L574.8 105.5 L576.3 104.7 L577.8 104.0 L579.3 103.2 L580.8 102.5 L582.3 101.8 L583.8 101.1 L585.3 100.4 L586.8 99.7 L588.3 99.0 L589.8 98.4 L591.3 97.7 L592.8 97.1 L594.3 96.5 L595.8 95.9 L597.3 95.3 L598.8 94.7 L600.3 94.1 L601.8 93.5 L603.3 92.9 L604.8 92.3 L606.3 91.8 L607.8 91.2 L609.3 90.7 L610.8 90.1 L612.3 89.6 L613.8 89.1 L615.3 88.5 L616.8 88.0 L618.3 87.5 L619.8 87.0 L621.3 86.5 L622.8 86.0 L624.3 85.5 L625.8 85.0 L627.3 84.6 L628.8 84.1 L630.3 83.6 L631.8 83.2 L633.3 82.7 L634.8 82.3 L636.3 81.8 L637.8 81.4 L639.3 81.0 L640.8 80.5 L642.3 80.1 L643.8 79.7 L645.3 79.2 L646.8 78.8 L648.3 78.4 L649.8 78.0 L651.3 77.6 L652.8 77.2 L654.3 76.8 L655.8 76.4 L657.3 76.0 L658.8 75.6 L660.3 75.2 L661.8 74.8 L663.3 74.4 L664.8 74.1 L666.3 73.7 L667.8 73.3 L669.3 72.9 L670.8 72.6 L672.3 72.2 L673.8 71.8 L675.3 71.4 L676.8 71.1 L678.3 70.7 L679.8 70.3 L681.3 69.9 L682.8 69.6 L684.3 69.2 L685.8 68.8 L687.3 68.5 L688.8 68.1 L690.3 67.7 L691.8 67.4 L693.3 67.0 L694.8 66.6 L696.3 66.3 L697.8 65.9 L699.3 65.6 L700.8 65.2 L702.3 64.8 L703.8 64.5 L705.3 64.1 L706.8 63.8 L708.3 63.4 L709.8 63.1 L711.3 62.7 L712.8 62.4 L714.3 62.0 L715.8 61.7 L717.3 61.3 L718.8 61.0 L720.3 60.6 L721.8 60.3 L723.3 59.9 L724.8 59.6 L726.3 59.3 L727.8 58.9 L729.3 58.6 L730.1 58.4" stroke="#ff0000" stroke-dasharray="10.5 10.5"/>
<path d="M141.3 207.5 L142.8 207.5 L144.3 207.5 L145.8 207.5 L147.3 207.5 L148.8 207.5 L150.3 207.5 L151.8 207.5 L153.3 207.5 L154.8 207.4 L156.3 207.4 L157.8 207.4 L159.3 207.4 L160.8 207.4 L162.3 207.4 L163.8 207.4 L165.3 207.4 L166.8 207.3 L168.3 207.3 L169.8 207.3 L171.3 207.3 L172.8 207.3 L174.3 207.3 L175.8 207.2 L177.3 207.2 L178.8 207.2 L180.3 207.2 L181.8 207.2 L183.3 207.1 L184.8 207.1 L186.3 207.1 L187.8 207.1 L189.3 207.1 L190.8 207.0 L192.3 207.0 L193.8 207.0 L195.3 207.0 L196.8 207.0 L198.3 206.9 L199.8 206.9 L201.3 206.9 L202.8 206.9 L204.3 206.8 L205.8 206.8 L207.3 206.8 L208.8 206.8 L210.3 206.7 L211.8 206.7 L213.3 206.7 L214.8 206.6 L216.3 206.6 L217.8 206.6 L219.3 206.5 L220.8 206.5 L222.3 206.5 L223.8 206.4 L225.3 206.4 L226.8 206.3 L228.3 206.3 L229.8 206.3 L231.3 206.2 L232.8 206.2 L234.3 206.1 L235.8 206.1 L237.3 206.0 L238.8 206.0 L240.3 205.9 L241.8 205.9 L243.3 205.8 L244.8 205.8 L246.3 205.7 L247.8 205.7 L249.3 205.7 L250.8 205.6 L252.3 205.6 L253.8 205.5 L255.3 205.5 L256.8 205.4 L258.3 205.4 L259.8 205.3 L261.3 205.3 L262.8 205.2 L264.3 205.2 L265.8 205.1 L267.3 205.1 L268.8 205.0 L270.3 205.0 L271.8 204.9 L273.3 204.9 L274.8 204.8 L276.3 204.8 L277.8 204.7 L279.3 204.6 L280.8 204.6 L282.3 204.5 L283.8 204.5 L285.3 204.4 L286.8 204.4 L288.3 204.3 L289.8 204.2 L291.3 204.2 L292.8 204.1 L294.3 204.1 L295.8 204.0 L297.3 203.9 L298.8 203.9 L300.3 203.8 L301.8 203.7 L303.3 203.7 L304.8 203.6 L306.3 203.5 L307.8 203.5 L309.3 203.4 L310.8 203.3 L312.3 203.3 L313.8 203.2 L315.3 203.1 L316.8 203.0 L318.3 203.0 L319.8 202.9 L321.3 202.8 L322.8 202.7 L324.3 202.7 L325.8 202.6 L327.3 202.5 L328.8 202.4 L330.3 202.3 L331.8 202.2 L333.3 202.1 L334.8 202.0 L336.3 201.9 L337.8 201.9 L339.3 201.8 L340.8 201.7 L342.3 201.6 L343.8 201.5 L345.3 201.4 L346.8 201.3 L348.3 201.2 L349.8 201.1 L351.3 201.0 L352.8 200.9 L354.3 200.8 L355.8 200.7 L357.3 200.6 L358.8 200.6 L360.3 200.5 L361.8 200.4 L363.3 200.3 L364.8 200.2 L366.3 200.1 L367.8 200.0 L369.3 200.0 L370.8 199.9 L372.3 199.8 L373.8 199.7 L375.3 199.6 L376.8 199.5 L378.3 199.5 L379.8 199.4 L381.3 199.3 L382.8 199.2 L384.3 199.1 L385.8 199.0 L387.3 198.9 L388.8 198.8 L390.3 198.7 L391.8 198.6 L393.3 198.5 L394.8 198.4 L396.3 198.2 L397.8 198.1 L399.3 198.0 L400.8 197.9 L402.3 197.8 L403.8 197.6 L405.3 197.5 L406.8 197.4 L408.3 197.3 L409.8 197.1 L411.3 197.0 L412.8 196.9 L414.3 196.8 L415.8 196.6 L417.3 196.5 L418.8 196.4 L420.3 196.3 L421.8 196.1 L423.3 196.0 L424.8 195.9 L426.3 195.8 L427.8 195.7 L429.3 195.5 L430.8 195.4 L432.3 195.3 L433.8 195.2 L435.3 195.1 L436.8 195.0 L438.3 194.9 L439.8 194.7 L441.3 194.6 L442.8 194.5 L444.3 194.4 L445.8 194.3 L447.3 194.2 L448.8 194.1 L450.3 194.0 L451.8 193.9 L453.3 193.8 L454.8 193.7 L456.3 193.6 L457.8 193.5 L459.3 193.4 L460.8 193.3 L462.3 193.3 L463.8 193.2 L465.3 193.1 L466.8 193.0 L468.3 192.9 L469.8 192.8 L471.3 192.7 L472.8 192.6 L474.3 192.5 L475.8 192.4 L477.3 192.3 L478.8 192.2 L480.3 192.1 L481.8 192.0 L483.3 191.9 L484.8 191.8 L486.3 191.7 L487.8 191.6 L489.3 191.5 L490.8 191.4 L492.3 191.3 L493.8 191.2 L495.3 191.1 L496.8 191.0 L498.3 190.8 L499.8 190.7 L501.3 190.6 L502.8 190.5 L504.3 190.4 L505.8 190.3 L507.3 190.1 L508.8 190.0 L510.3 189.9 L511.8 189.8 L513.3 189.6 L514.8 189.5 L516.3 189.4 L517.8 189.3 L519.3 189.1 L520.8 189.0 L522.3 188.9 L523.8 188.8 L525.3 188.6 L526.8 188.5 L528.3 188.4 L529.8 188.2 L531.3 188.1 L532.8 188.0 L534.3 187.8 L535.8 187.7 L537.3 187.5 L538.8 187.4 L540.3 187.2 L541.8 187.1 L543.3 187.0 L544.8 186.8 L546.3 186.7 L547.8 186.5 L549.3 186.4 L550.8 186.2 L552.3 186.0 L553.8 185.9 L555.3 185.7 L556.8 185.6 L558.3 185.4 L559.8 185.2 L561.3 185.1 L562.8 184.9 L564.3 184.7 L565.8 184.6 L567.3 184.4 L568.8 184.2 L570.3 184.1 L571.8 183.9 L573.3 183.7 L574.8 183.6 L576.3 183.4 L577.8 183.2 L579.3 183.0 L580.8 182.8 L582.3 182.7 L583.8 182.5 L585.3 182.3 L586.8 182.1 L588.3 181.9 L589.8 181.7 L591.3 181.5 L592.8 181.3 L594.3 181.1 L595.8 180.9 L597.3 180.7 L598.8 180.4 L600.3 180.2 L601.8 180.0 L603.3 179.8 L604.8 179.5 L606.3 179.3 L607.8 179.1 L609.3 178.8 L610.8 178.6 L612.3 178.3 L613.8 178.1 L615.3 177.8 L616.8 177.5 L618.3 177.3 L619.8 177.0 L621.3 176.7 L622.8 176.4 L624.3 176.1 L625.8 175.7 L627.3 175.4 L628.8 175.0 L630.3 174.7 L631.8 174.3 L633.3 173.9 L634.8 173.6 L636.3 173.2 L637.8 172.8 L639.3 172.4 L640.8 171.9 L642.3 171.5 L643.8 171.1 L645.3 170.7 L646.8 170.2 L648.3 169.8 L649.8 169.4 L651.3 168.9 L652.8 168.5 L654.3 168.0 L655.8 167.6 L657.3 167.1 L658.8 166.7 L660.3 166.2 L661.8 165.8 L663.3 165.3 L664.8 164.9 L666.3 164.4 L667.8 164.0 L669.3 163.5 L670.8 163.1 L672.3 162.6 L673.8 162.2 L675.3 161.7 L676.8 161.3 L678.3 160.9 L679.8 160.5 L681.3 160.0 L682.8 159.6 L684.3 159.2 L685.8 158.7 L687.3 158.3 L688.8 157.9 L690.3 157.4 L691.8 157.0 L693.3 156.6 L694.8 156.1 L696.3 155.7 L697.8 155.3 L699.3 154.8 L700.8 154.4 L702.3 153.9 L703.8 153.5 L705.3 153.0 L706.8 152.6 L708.3 152.1 L709.8 151.7 L711.3 151.2 L712.8 150.7 L714.3 150.2 L715.8 149.8 L717.3 149.3 L718.8 148.8 L720.3 148.3 L721.8 147.8 L723.3 147.3 L724.8 146.8 L726.3 146.2 L727.8 145.7 L729.3 145.1 L730.1 144.8" stroke="#000000" stroke-dasharray="0 11.15 9.2 11.15" stroke-linecap="round"/>
<path d="M141.3 352.6 L142.8 352.6 L144.3 352.6 L145.8 352.6 L147.3 352.6 L148.8 352.6 L150.3 352.6 L151.8 352.6 L153.3 352.6 L154.8 352.6 L156.3 352.6 L157.8 352.6 L159.3 352.6 L160.8 352.6 L162.3 352.6 L163.8 352.5 L165.3 352.5 L166.8 352.5 L168.3 352.5 L169.8 352.5 L171.3 352.5 L172.8 352.5 L174.3 352.5 L175.8 352.5 L177.3 352.5 L178.8 352.5 L180.3 352.5 L181.8 352.4 L183.3 352.4 L184.8 352.4 L186.3 352.4 L187.8 352.4 L189.3 352.4 L190.8 352.4 L192.3 352.4 L193.8 352.4 L195.3 352.3 L196.8 352.3 L198.3 352.3 L199.8 352.3 L201.3 352.3 L202.8 352.3 L204.3 352.3 L205.8 352.2 L207.3 352.2 L208.8 352.2 L210.3 352.2 L211.8 352.1 L213.3 352.1 L214.8 352.1 L216.3 352.0 L217.8 352.0 L219.3 352.0 L220.8 351.9 L222.3 351.9 L223.8 351.9 L225.3 351.8 L226.8 351.8 L228.3 351.7 L229.8 351.7 L231.3 351.6 L232.8 351.6 L234.3 351.5 L235.8 351.5 L237.3 351.4 L238.8 351.4 L240.3 351.3 L241.8 351.3 L243.3 351.2 L244.8 351.2 L246.3 351.1 L247.8 351.1 L249.3 351.0 L250.8 351.0 L252.3 350.9 L253.8 350.9 L255.3 350.8 L256.8 350.8 L258.3 350.8 L259.8 350.7 L261.3 350.7 L262.8 350.6 L264.3 350.6 L265.8 350.5 L267.3 350.5 L268.8 350.4 L270.3 350.4 L271.8 350.4 L273.3 350.3 L274.8 350.3 L276.3 350.2 L277.8 350.2 L279.3 350.1 L280.8 350.1 L282.3 350.0 L283.8 350.0 L285.3 349.9 L286.8 349.9 L288.3 349.8 L289.8 349.8 L291.3 349.7 L292.8 349.7 L294.3 349.6 L295.8 349.6 L297.3 349.5 L298.8 349.5 L300.3 349.4 L301.8 349.4 L303.3 349.3 L304.8 349.3 L306.3 349.2 L307.8 349.2 L309.3 349.1 L310.8 349.1 L312.3 349.0 L313.8 349.0 L315.3 348.9 L316.8 348.9 L318.3 348.8 L319.8 348.8 L321.3 348.7 L322.8 348.7 L324.3 348.6 L325.8 348.6 L327.3 348.6 L328.8 348.5 L330.3 348.5 L331.8 348.4 L333.3 348.4 L334.8 348.3 L336.3 348.3 L337.8 348.2 L339.3 348.2 L340.8 348.1 L342.3 348.1 L343.8 348.0 L345.3 348.0 L346.8 347.9 L348.3 347.9 L349.8 347.8 L351.3 347.8 L352.8 347.7 L354.3 347.7 L355.8 347.6 L357.3 347.6 L358.8 347.5 L360.3 347.5 L361.8 347.4 L363.3 347.4 L364.8 347.3 L366.3 347.2 L367.8 347.2 L369.3 347.1 L370.8 347.1 L372.3 347.0 L373.8 346.9 L375.3 346.9 L376.8 346.8 L378.3 346.7 L379.8 346.7 L381.3 346.6 L382.8 346.5 L384.3 346.5 L385.8 346.4 L387.3 346.3 L388.8 346.2 L390.3 346.1 L391.8 346.0 L393.3 345.9 L394.8 345.9 L396.3 345.8 L397.8 345.7 L399.3 345.6 L400.8 345.5 L402.3 345.4 L403.8 345.3 L405.3 345.2 L406.8 345.1 L408.3 345.0 L409.8 344.9 L411.3 344.8 L412.8 344.7 L414.3 344.5 L415.8 344.4 L417.3 344.3 L418.8 344.2 L420.3 344.1 L421.8 344.0 L423.3 343.9 L424.8 343.8 L426.3 343.7 L427.8 343.5 L429.3 343.4 L430.8 343.3 L432.3 343.2 L433.8 343.1 L435.3 343.0 L436.8 342.8 L438.3 342.7 L439.8 342.6 L441.3 342.5 L442.8 342.4 L444.3 342.3 L445.8 342.2 L447.3 342.0 L448.8 341.9 L450.3 341.8 L451.8 341.7 L453.3 341.6 L454.8 341.4 L456.3 341.3 L457.8 341.2 L459.3 341.1 L460.8 341.0 L462.3 340.8 L463.8 340.7 L465.3 340.6 L466.8 340.4 L468.3 340.3 L469.8 340.2 L471.3 340.1 L472.8 339.9 L474.3 339.8 L475.8 339.6 L477.3 339.5 L478.8 339.4 L480.3 339.2 L481.8 339.1 L483.3 338.9 L484.8 338.8 L486.3 338.6 L487.8 338.5 L489.3 338.3 L490.8 338.1 L492.3 338.0 L493.8 337.8 L495.3 337.6 L496.8 337.5 L498.3 337.3 L499.8 337.1 L501.3 336.9 L502.8 336.7 L504.3 336.5 L505.8 336.3 L507.3 336.1 L508.8 335.9 L510.3 335.7 L511.8 335.5 L513.3 335.3 L514.8 335.1 L516.3 334.8 L517.8 334.6 L519.3 334.4 L520.8 334.1 L522.3 333.9 L523.8 333.6 L525.3 333.4 L526.8 333.1 L528.3 332.8 L529.8 332.6 L531.3 332.3 L532.8 332.0 L534.3 331.7 L535.8 331.4 L537.3 331.1 L538.8 330.8 L540.3 330.5 L541.8 330.1 L543.3 329.8 L544.8 329.4 L546.3 329.0 L547.8 328.6 L549.3 328.2 L550.8 327.7 L552.3 327.3 L553.8 326.8 L555.3 326.3 L556.8 325.8 L558.3 325.3 L559.8 324.8 L561.3 324.3 L562.8 323.7 L564.3 323.1 L565.8 322.5 L567.3 321.9 L568.8 321.2 L570.3 320.6 L571.8 319.9 L573.3 319.2 L574.8 318.5 L576.3 317.8 L577.8 317.0 L579.3 316.3 L580.8 315.5 L582.3 314.8 L583.8 313.9 L585.3 313.1 L586.8 312.3 L588.3 311.4 L589.8 310.5 L591.3 309.7 L592.8 308.7 L594.3 307.8 L595.8 306.9 L597.3 305.9 L598.8 305.0 L600.3 304.0 L601.8 303.0 L603.3 302.0 L604.8 301.0 L606.3 300.0 L607.8 299.0 L609.3 297.9 L610.8 296.9 L612.3 295.7 L613.8 294.6 L615.3 293.4 L616.8 292.2 L618.3 291.0 L619.8 289.6 L621.3 288.3 L622.8 286.8 L624.3 285.4 L625.8 283.9 L627.3 282.4 L628.8 280.9 L630.3 279.4 L631.8 277.9 L633.3 276.3 L634.8 274.7 L636.3 273.1 L637.8 271.5 L639.3 269.9 L640.8 268.2 L642.3 266.6 L643.8 265.0 L645.3 263.3 L646.8 261.7 L648.3 260.1 L649.8 258.5 L651.3 257.0 L652.8 255.4 L654.3 253.9 L655.8 252.4 L657.3 250.8 L658.8 249.3 L660.3 247.8 L661.8 246.3 L663.3 244.8 L664.8 243.3 L666.3 241.8 L667.8 240.3 L669.3 238.8 L670.8 237.4 L672.3 235.9 L673.8 234.5 L675.3 233.1 L676.8 231.7 L678.3 230.2 L679.8 228.8 L681.3 227.4 L682.8 226.0 L684.3 224.6 L685.8 223.3 L687.3 221.9 L688.8 220.6 L690.3 219.2 L691.8 217.9 L693.3 216.7 L694.8 215.4 L696.3 214.2 L697.8 213.0 L699.3 211.8 L700.8 210.7 L702.3 209.6 L703.8 208.5 L705.3 207.4 L706.8 206.3 L708.3 205.3 L709.8 204.2 L711.3 203.2 L712.8 202.2 L714.3 201.1 L715.8 200.1 L717.3 199.0 L718.8 198.0 L720.3 197.0 L721.8 195.9 L723.3 194.8 L724.8 193.8 L726.3 192.7 L727.8 191.6 L729.3 190.6 L730.1 190.0" stroke="#0000ff" stroke-dasharray="0 11.15 9.2 11.15" stroke-linecap="round"/>
<path d="M141.3 352.6 L142.8 352.6 L144.3 352.6 L145.8 352.6 L147.3 352.6 L148.8 352.6 L150.3 352.6 L151.8 352.6 L153.3 352.6 L154.8 352.6 L156.3 352.6 L157.8 352.5 L159.3 352.5 L160.8 352.5 L162.3 352.5 L163.8 352.5 L165.3 352.5 L166.8 352.5 L168.3 352.5 L169.8 352.4 L171.3 352.4 L172.8 352.4 L174.3 352.4 L175.8 352.4 L177.3 352.4 L178.8 352.3 L180.3 352.3 L181.8 352.3 L183.3 352.3 L184.8 352.3 L186.3 352.2 L187.8 352.2 L189.3 352.2 L190.8 352.2 L192.3 352.1 L193.8 352.1 L195.3 352.1 L196.8 352.1 L198.3 352.0 L199.8 352.0 L201.3 352.0 L202.8 352.0 L204.3 351.9 L205.8 351.9 L207.3 351.8 L208.8 351.8 L210.3 351.7 L211.8 351.7 L213.3 351.6 L214.8 351.6 L216.3 351.5 L217.8 351.4 L219.3 351.3 L220.8 351.3 L222.3 351.2 L223.8 351.1 L225.3 351.0 L226.8 350.9 L228.3 350.8 L229.8 350.7 L231.3 350.6 L232.8 350.5 L234.3 350.4 L235.8 350.3 L237.3 350.2 L238.8 350.1 L240.3 350.0 L241.8 349.9 L243.3 349.8 L244.8 349.7 L246.3 349.6 L247.8 349.5 L249.3 349.4 L250.8 349.3 L252.3 349.2 L253.8 349.0 L255.3 348.9 L256.8 348.8 L258.3 348.7 L259.8 348.6 L261.3 348.5 L262.8 348.4 L264.3 348.3 L265.8 348.2 L267.3 348.1 L268.8 348.0 L270.3 347.9 L271.8 347.8 L273.3 347.6 L274.8 347.5 L276.3 347.4 L277.8 347.3 L279.3 347.2 L280.8 347.0 L282.3 346.9 L283.8 346.8 L285.3 346.7 L286.8 346.5 L288.3 346.4 L289.8 346.3 L291.3 346.2 L292.8 346.0 L294.3 345.9 L295.8 345.8 L297.3 345.6 L298.8 345.5 L300.3 345.4 L301.8 345.2 L303.3 345.1 L304.8 344.9 L306.3 344.8 L307.8 344.7 L309.3 344.5 L310.8 344.4 L312.3 344.2 L313.8 344.1 L315.3 343.9 L316.8 343.8 L318.3 343.6 L319.8 343.5 L321.3 343.3 L322.8 343.2 L324.3 343.0 L325.8 342.9 L327.3 342.7 L328.8 342.6 L330.3 342.4 L331.8 342.3 L333.3 342.1 L334.8 342.0 L336.3 341.8 L337.8 341.6 L339.3 341.5 L340.8 341.3 L342.3 341.1 L343.8 341.0 L345.3 340.8 L346.8 340.6 L348.3 340.5 L349.8 340.3 L351.3 340.1 L352.8 339.9 L354.3 339.8 L355.8 339.6 L357.3 339.4 L358.8 339.2 L360.3 339.0 L361.8 338.9 L363.3 338.7 L364.8 338.5 L366.3 338.3 L367.8 338.1 L369.3 337.9 L370.8 337.7 L372.3 337.5 L373.8 337.3 L375.3 337.1 L376.8 336.8 L378.3 336.6 L379.8 336.4 L381.3 336.2 L382.8 336.0 L384.3 335.7 L385.8 335.5 L387.3 335.3 L388.8 335.0 L390.3 334.8 L391.8 334.5 L393.3 334.3 L394.8 334.0 L396.3 333.8 L397.8 333.5 L399.3 333.2 L400.8 332.9 L402.3 332.7 L403.8 332.4 L405.3 332.1 L406.8 331.8 L408.3 331.5 L409.8 331.3 L411.3 331.0 L412.8 330.7 L414.3 330.4 L415.8 330.1 L417.3 329.8 L418.8 329.5 L420.3 329.2 L421.8 328.9 L423.3 328.5 L424.8 328.2 L426.3 327.9 L427.8 327.6 L429.3 327.3 L430.8 327.0 L432.3 326.7 L433.8 326.3 L435.3 326.0 L436.8 325.7 L438.3 325.4 L439.8 325.1 L441.3 324.7 L442.8 324.4 L444.3 324.1 L445.8 323.8 L447.3 323.4 L448.8 323.1 L450.3 322.8 L451.8 322.4 L453.3 322.1 L454.8 321.7 L456.3 321.4 L457.8 321.0 L459.3 320.7 L460.8 320.3 L462.3 320.0 L463.8 319.6 L465.3 319.3 L466.8 318.9 L468.3 318.5 L469.8 318.2 L471.3 317.8 L472.8 317.4 L474.3 317.0 L475.8 316.6 L477.3 316.3 L478.8 315.9 L480.3 315.5 L481.8 315.1 L483.3 314.7 L484.8 314.3 L486.3 313.9 L487.8 313.4 L489.3 313.0 L490.8 312.6 L492.3 312.2 L493.8 311.8 L495.3 311.3 L496.8 310.9 L498.3 310.4 L499.8 310.0 L501.3 309.5 L502.8 309.1 L504.3 308.6 L505.8 308.1 L507.3 307.6 L508.8 307.1 L510.3 306.6 L511.8 306.0 L513.3 305.5 L514.8 304.9 L516.3 304.4 L517.8 303.8 L519.3 303.3 L520.8 302.7 L522.3 302.1 L523.8 301.6 L525.3 301.0 L526.8 300.4 L528.3 299.8 L529.8 299.2 L531.3 298.6 L532.8 298.0 L534.3 297.3 L535.8 296.6 L537.3 295.9 L538.8 295.2 L540.3 294.4 L541.8 293.6 L543.3 292.7 L544.8 291.8 L546.3 290.9 L547.8 289.9 L549.3 288.9 L550.8 287.9 L552.3 286.8 L553.8 285.7 L555.3 284.6 L556.8 283.4 L558.3 282.2 L559.8 281.0 L561.3 279.8 L562.8 278.5 L564.3 277.1 L565.8 275.7 L567.3 274.3 L568.8 272.8 L570.3 271.3 L571.8 269.8 L573.3 268.3 L574.8 266.7 L576.3 265.1 L577.8 263.5 L579.3 261.9 L580.8 260.2 L582.3 258.6 L583.8 256.9 L585.3 255.3 L586.8 253.6 L588.3 251.9 L589.8 250.2 L591.3 248.5 L592.8 246.8 L594.3 245.1 L595.8 243.3 L597.3 241.5 L598.8 239.6 L600.3 237.8 L601.8 235.9 L603.3 234.0 L604.8 232.1 L606.3 230.2 L607.8 228.3 L609.3 226.3 L610.8 224.4 L612.3 222.4 L613.8 220.4 L615.3 218.4 L616.8 216.4 L618.3 214.3 L619.8 212.3 L621.3 210.2 L622.8 208.1 L624.3 206.0 L625.8 203.9 L627.3 201.8 L628.8 199.6 L630.3 197.4 L631.8 195.2 L633.3 192.9 L634.8 190.5 L636.3 188.2 L637.8 185.9 L639.3 183.5 L640.8 181.2 L642.3 179.0 L643.8 176.7 L645.3 174.6 L646.8 172.5 L648.3 170.5 L649.8 168.5 L651.3 166.5 L652.8 164.5 L654.3 162.6 L655.8 160.6 L657.3 158.7 L658.8 156.8 L660.3 154.9 L661.8 153.0 L663.3 151.1 L664.8 149.3 L666.3 147.4 L667.8 145.6 L669.3 143.8 L670.8 142.1 L672.3 140.4 L673.8 138.7 L675.3 137.0 L676.8 135.4 L678.3 133.8 L679.8 132.2 L681.3 130.6 L682.8 129.0 L684.3 127.4 L685.8 125.9 L687.3 124.3 L688.8 122.8 L690.3 121.3 L691.8 119.8 L693.3 118.4 L694.8 117.0 L696.3 115.6 L697.8 114.3 L699.3 113.1 L700.8 111.8 L702.3 110.7 L703.8 109.5 L705.3 108.4 L706.8 107.2 L708.3 106.1 L709.8 105.1 L711.3 104.0 L712.8 103.0 L714.3 102.0 L715.8 101.1 L717.3 100.1 L718.8 99.3 L720.3 98.4 L721.8 97.6 L723.3 96.8 L724.8 96.1 L726.3 95.4 L727.8 94.7 L729.3 94.0 L730.1 93.7" stroke="#ff0000" stroke-dasharray="0 11.15 9.2 11.15" stroke-linecap="round"/>
<path d="M141.3 522.6 L142.8 522.6 L144.3 522.6 L145.8 522.5 L147.3 522.5 L148.8 522.5 L150.3 522.4 L151.8 522.4 L153.3 522.4 L154.8 522.3 L156.3 522.2 L157.8 522.2 L159.3 522.1 L160.8 522.0 L162.3 522.0 L163.8 521.9 L165.3 521.8 L166.8 521.7 L168.3 521.6 L169.8 521.5 L171.3 521.4 L172.8 521.3 L174.3 521.2 L175.8 521.1 L177.3 521.0 L178.8 520.9 L180.3 520.8 L181.8 520.7 L183.3 520.6 L184.8 520.4 L186.3 520.3 L187.8 520.2 L189.3 520.1 L190.8 519.9 L192.3 519.8 L193.8 519.7 L195.3 519.5 L196.8 519.4 L198.3 519.2 L199.8 519.1 L201.3 519.0 L202.8 518.8 L204.3 518.6 L205.8 518.5 L207.3 518.3 L208.8 518.1 L210.3 517.9 L211.8 517.7 L213.3 517.5 L214.8 517.3 L216.3 517.1 L217.8 516.9 L219.3 516.7 L220.8 516.4 L222.3 516.2 L223.8 515.9 L225.3 515.7 L226.8 515.4 L228.3 515.2 L229.8 514.9 L231.3 514.6 L232.8 514.4 L234.3 514.1 L235.8 513.8 L237.3 513.5 L238.8 513.2 L240.3 513.0 L241.8 512.7 L243.3 512.4 L244.8 512.1 L246.3 511.8 L247.8 511.5 L249.3 511.2 L250.8 510.9 L252.3 510.6 L253.8 510.3 L255.3 510.0 L256.8 509.7 L258.3 509.4 L259.8 509.1 L261.3 508.8 L262.8 508.5 L264.3 508.2 L265.8 507.9 L267.3 507.5 L268.8 507.2 L270.3 506.9 L271.8 506.6 L273.3 506.2 L274.8 505.9 L276.3 505.6 L277.8 505.2 L279.3 504.9 L280.8 504.5 L282.3 504.2 L283.8 503.8 L285.3 503.4 L286.8 503.1 L288.3 502.7 L289.8 502.3 L291.3 502.0 L292.8 501.6 L294.3 501.2 L295.8 500.8 L297.3 500.5 L298.8 500.1 L300.3 499.7 L301.8 499.3 L303.3 499.0 L304.8 498.6 L306.3 498.2 L307.8 497.8 L309.3 497.4 L310.8 497.1 L312.3 496.7 L313.8 496.3 L315.3 495.9 L316.8 495.5 L318.3 495.2 L319.8 494.8 L321.3 494.4 L322.8 494.0 L324.3 493.6 L325.8 493.3 L327.3 492.9 L328.8 492.5 L330.3 492.1 L331.8 491.7 L333.3 491.3 L334.8 490.9 L336.3 490.5 L337.8 490.1 L339.3 489.7 L340.8 489.3 L342.3 488.9 L343.8 488.5 L345.3 488.1 L346.8 487.7 L348.3 487.3 L349.8 486.9 L351.3 486.4 L352.8 486.0 L354.3 485.6 L355.8 485.2 L357.3 484.8 L358.8 484.3 L360.3 483.9 L361.8 483.5 L363.3 483.1 L364.8 482.7 L366.3 482.2 L367.8 481.8 L369.3 481.4 L370.8 481.0 L372.3 480.5 L373.8 480.1 L375.3 479.7 L376.8 479.3 L378.3 478.8 L379.8 478.4 L381.3 478.0 L382.8 477.6 L384.3 477.1 L385.8 476.7 L387.3 476.3 L388.8 475.8 L390.3 475.4 L391.8 475.0 L393.3 474.5 L394.8 474.1 L396.3 473.6 L397.8 473.2 L399.3 472.8 L400.8 472.3 L402.3 471.9 L403.8 471.4 L405.3 471.0 L406.8 470.6 L408.3 470.1 L409.8 469.7 L411.3 469.2 L412.8 468.8 L414.3 468.3 L415.8 467.9 L417.3 467.4 L418.8 467.0 L420.3 466.5 L421.8 466.0 L423.3 465.6 L424.8 465.1 L426.3 464.7 L427.8 464.2 L429.3 463.8 L430.8 463.3 L432.3 462.9 L433.8 462.4 L435.3 462.0 L436.8 461.5 L438.3 461.1 L439.8 460.6 L441.3 460.2 L442.8 459.7 L444.3 459.3 L445.8 458.8 L447.3 458.4 L448.8 457.9 L450.3 457.5 L451.8 457.0 L453.3 456.6 L454.8 456.1 L456.3 455.7 L457.8 455.3 L459.3 454.8 L460.8 454.4 L462.3 453.9 L463.8 453.5 L465.3 453.0 L466.8 452.6 L468.3 452.1 L469.8 451.7 L471.3 451.3 L472.8 450.8 L474.3 450.4 L475.8 449.9 L477.3 449.5 L478.8 449.0 L480.3 448.6 L481.8 448.1 L483.3 447.7 L484.8 447.2 L486.3 446.8 L487.8 446.4 L489.3 445.9 L490.8 445.5 L492.3 445.0 L493.8 444.6 L495.3 444.1 L496.8 443.7 L498.3 443.2 L499.8 442.8 L501.3 442.3 L502.8 441.9 L504.3 441.4 L505.8 441.0 L507.3 440.5 L508.8 440.1 L510.3 439.6 L511.8 439.2 L513.3 438.7 L514.8 438.2 L516.3 437.8 L517.8 437.3 L519.3 436.8 L520.8 436.4 L522.3 435.9 L523.8 435.4 L525.3 435.0 L526.8 434.5 L528.3 434.0 L529.8 433.6 L531.3 433.1 L532.8 432.6 L534.3 432.1 L535.8 431.7 L537.3 431.2 L538.8 430.7 L540.3 430.3 L541.8 429.8 L543.3 429.4 L544.8 428.9 L546.3 428.4 L547.8 428.0 L549.3 427.5 L550.8 427.0 L552.3 426.6 L553.8 426.1 L555.3 425.6 L556.8 425.2 L558.3 424.7 L559.8 424.2 L561.3 423.7 L562.8 423.3 L564.3 422.8 L565.8 422.3 L567.3 421.9 L568.8 421.4 L570.3 420.9 L571.8 420.5 L573.3 420.0 L574.8 419.5 L576.3 419.0 L577.8 418.6 L579.3 418.1 L580.8 417.6 L582.3 417.2 L583.8 416.7 L585.3 416.2 L586.8 415.8 L588.3 415.3 L589.8 414.8 L591.3 414.4 L592.8 413.9 L594.3 413.4 L595.8 412.9 L597.3 412.5 L598.8 412.0 L600.3 411.5 L601.8 411.1 L603.3 410.6 L604.8 410.1 L606.3 409.7 L607.8 409.2 L609.3 408.7 L610.8 408.3 L612.3 407.8 L613.8 407.3 L615.3 406.9 L616.8 406.4 L618.3 405.9 L619.8 405.5 L621.3 405.0 L622.8 404.6 L624.3 404.1 L625.8 403.6 L627.3 403.2 L628.8 402.7 L630.3 402.3 L631.8 401.8 L633.3 401.3 L634.8 400.9 L636.3 400.4 L637.8 400.0 L639.3 399.5 L640.8 399.0 L642.3 398.6 L643.8 398.1 L645.3 397.7 L646.8 397.2 L648.3 396.8 L649.8 396.3 L651.3 395.8 L652.8 395.4 L654.3 394.9 L655.8 394.4 L657.3 394.0 L658.8 393.5 L660.3 393.1 L661.8 392.6 L663.3 392.1 L664.8 391.7 L666.3 391.2 L667.8 390.7 L669.3 390.3 L670.8 389.8 L672.3 389.3 L673.8 388.8 L675.3 388.4 L676.8 387.9 L678.3 387.4 L679.8 387.0 L681.3 386.5 L682.8 386.0 L684.3 385.5 L685.8 385.1 L687.3 384.6 L688.8 384.1 L690.3 383.6 L691.8 383.1 L693.3 382.7 L694.8 382.2 L696.3 381.7 L697.8 381.2 L699.3 380.7 L700.8 380.3 L702.3 379.8 L703.8 379.3 L705.3 378.8 L706.8 378.3 L708.3 377.8 L709.8 377.3 L711.3 376.9 L712.8 376.4 L714.3 375.9 L715.8 375.4 L717.3 374.9 L718.8 374.4 L720.3 373.9 L721.8 373.4 L723.3 372.9 L724.8 372.4 L726.3 372.0 L727.8 371.5 L729.3 371.0 L730.1 370.7" stroke="#000000"/>
<path d="M141.3 633.2 L142.8 633.1 L144.3 633.0 L145.8 632.9 L147.3 632.7 L148.8 632.6 L150.3 632.4 L151.8 632.3 L153.3 632.1 L154.8 632.0 L156.3 631.8 L157.8 631.6 L159.3 631.5 L160.8 631.3 L162.3 631.1 L163.8 630.9 L165.3 630.7 L166.8 630.5 L168.3 630.3 L169.8 630.1 L171.3 629.9 L172.8 629.7 L174.3 629.5 L175.8 629.2 L177.3 629.0 L178.8 628.7 L180.3 628.4 L181.8 628.2 L183.3 627.9 L184.8 627.6 L186.3 627.3 L187.8 627.0 L189.3 626.7 L190.8 626.3 L192.3 626.0 L193.8 625.7 L195.3 625.4 L196.8 625.0 L198.3 624.7 L199.8 624.3 L201.3 624.0 L202.8 623.7 L204.3 623.3 L205.8 622.9 L207.3 622.6 L208.8 622.2 L210.3 621.8 L211.8 621.4 L213.3 621.0 L214.8 620.6 L216.3 620.2 L217.8 619.8 L219.3 619.3 L220.8 618.9 L222.3 618.5 L223.8 618.0 L225.3 617.5 L226.8 617.1 L228.3 616.6 L229.8 616.1 L231.3 615.6 L232.8 615.1 L234.3 614.6 L235.8 614.1 L237.3 613.6 L238.8 613.1 L240.3 612.6 L241.8 612.1 L243.3 611.6 L244.8 611.1 L246.3 610.6 L247.8 610.1 L249.3 609.6 L250.8 609.1 L252.3 608.6 L253.8 608.1 L255.3 607.6 L256.8 607.0 L258.3 606.5 L259.8 606.0 L261.3 605.5 L262.8 605.0 L264.3 604.5 L265.8 604.0 L267.3 603.5 L268.8 603.0 L270.3 602.5 L271.8 602.0 L273.3 601.5 L274.8 601.0 L276.3 600.5 L277.8 600.0 L279.3 599.5 L280.8 598.9 L282.3 598.4 L283.8 597.9 L285.3 597.4 L286.8 596.9 L288.3 596.4 L289.8 595.8 L291.3 595.3 L292.8 594.8 L294.3 594.3 L295.8 593.7 L297.3 593.2 L298.8 592.7 L300.3 592.1 L301.8 591.6 L303.3 591.1 L304.8 590.5 L306.3 590.0 L307.8 589.4 L309.3 588.9 L310.8 588.3 L312.3 587.8 L313.8 587.2 L315.3 586.7 L316.8 586.1 L318.3 585.6 L319.8 585.0 L321.3 584.5 L322.8 583.9 L324.3 583.3 L325.8 582.7 L327.3 582.2 L328.8 581.6 L330.3 581.0 L331.8 580.4 L333.3 579.9 L334.8 579.3 L336.3 578.7 L337.8 578.1 L339.3 577.5 L340.8 576.9 L342.3 576.3 L343.8 575.8 L345.3 575.2 L346.8 574.6 L348.3 574.0 L349.8 573.4 L351.3 572.8 L352.8 572.2 L354.3 571.6 L355.8 571.0 L357.3 570.4 L358.8 569.8 L360.3 569.3 L361.8 568.7 L363.3 568.1 L364.8 567.5 L366.3 566.9 L367.8 566.3 L369.3 565.7 L370.8 565.1 L372.3 564.6 L373.8 564.0 L375.3 563.4 L376.8 562.8 L378.3 562.2 L379.8 561.7 L381.3 561.1 L382.8 560.5 L384.3 559.9 L385.8 559.4 L387.3 558.8 L388.8 558.2 L390.3 557.6 L391.8 557.0 L393.3 556.5 L394.8 555.9 L396.3 555.3 L397.8 554.7 L399.3 554.1 L400.8 553.5 L402.3 553.0 L403.8 552.4 L405.3 551.8 L406.8 551.2 L408.3 550.6 L409.8 550.1 L411.3 549.5 L412.8 548.9 L414.3 548.3 L415.8 547.7 L417.3 547.2 L418.8 546.6 L420.3 546.0 L421.8 545.4 L423.3 544.9 L424.8 544.3 L426.3 543.7 L427.8 543.2 L429.3 542.6 L430.8 542.0 L432.3 541.5 L433.8 540.9 L435.3 540.4 L436.8 539.8 L438.3 539.3 L439.8 538.7 L441.3 538.2 L442.8 537.6 L444.3 537.1 L445.8 536.5 L447.3 536.0 L448.8 535.4 L450.3 534.9 L451.8 534.3 L453.3 533.8 L454.8 533.2 L456.3 532.7 L457.8 532.1 L459.3 531.6 L460.8 531.0 L462.3 530.5 L463.8 530.0 L465.3 529.4 L466.8 528.9 L468.3 528.3 L469.8 527.8 L471.3 527.3 L472.8 526.7 L474.3 526.2 L475.8 525.7 L477.3 525.1 L478.8 524.6 L480.3 524.0 L481.8 523.5 L483.3 523.0 L484.8 522.4 L486.3 521.9 L487.8 521.4 L489.3 520.8 L490.8 520.3 L492.3 519.8 L493.8 519.2 L495.3 518.7 L496.8 518.1 L498.3 517.6 L499.8 517.1 L501.3 516.5 L502.8 516.0 L504.3 515.4 L505.8 514.9 L507.3 514.4 L508.8 513.8 L510.3 513.3 L511.8 512.8 L513.3 512.2 L514.8 511.7 L516.3 511.2 L517.8 510.7 L519.3 510.1 L520.8 509.6 L522.3 509.1 L523.8 508.6 L525.3 508.0 L526.8 507.5 L528.3 507.0 L529.8 506.4 L531.3 505.9 L532.8 505.4 L534.3 504.8 L535.8 504.3 L537.3 503.8 L538.8 503.2 L540.3 502.7 L541.8 502.2 L543.3 501.6 L544.8 501.1 L546.3 500.6 L547.8 500.0 L549.3 499.5 L550.8 499.0 L552.3 498.5 L553.8 497.9 L555.3 497.4 L556.8 496.9 L558.3 496.4 L559.8 495.9 L561.3 495.3 L562.8 494.8 L564.3 494.3 L565.8 493.8 L567.3 493.3 L568.8 492.7 L570.3 492.2 L571.8 491.7 L573.3 491.2 L574.8 490.7 L576.3 490.1 L577.8 489.6 L579.3 489.1 L580.8 488.6 L582.3 488.0 L583.8 487.5 L585.3 487.0 L586.8 486.5 L588.3 485.9 L589.8 485.4 L591.3 484.9 L592.8 484.4 L594.3 483.8 L595.8 483.3 L597.3 482.8 L598.8 482.3 L600.3 481.7 L601.8 481.2 L603.3 480.7 L604.8 480.1 L606.3 479.6 L607.8 479.1 L609.3 478.5 L610.8 478.0 L612.3 477.5 L613.8 476.9 L615.3 476.4 L616.8 475.9 L618.3 475.4 L619.8 474.8 L621.3 474.3 L622.8 473.8 L624.3 473.2 L625.8 472.7 L627.3 472.1 L628.8 471.6 L630.3 471.1 L631.8 470.5 L633.3 470.0 L634.8 469.5 L636.3 468.9 L637.8 468.4 L639.3 467.8 L640.8 467.3 L642.3 466.8 L643.8 466.2 L645.3 465.7 L646.8 465.1 L648.3 464.6 L649.8 464.1 L651.3 463.5 L652.8 463.0 L654.3 462.4 L655.8 461.9 L657.3 461.3 L658.8 460.8 L660.3 460.3 L661.8 459.7 L663.3 459.2 L664.8 458.6 L666.3 458.1 L667.8 457.6 L669.3 457.0 L670.8 456.5 L672.3 455.9 L673.8 455.4 L675.3 454.8 L676.8 454.3 L678.3 453.8 L679.8 453.2 L681.3 452.7 L682.8 452.1 L684.3 451.6 L685.8 451.1 L687.3 450.5 L688.8 450.0 L690.3 449.4 L691.8 448.9 L693.3 448.4 L694.8 447.8 L696.3 447.3 L697.8 446.7 L699.3 446.2 L700.8 445.7 L702.3 445.1 L703.8 444.6 L705.3 444.0 L706.8 443.5 L708.3 443.0 L709.8 442.4 L711.3 441.9 L712.8 441.3 L714.3 440.8 L715.8 440.3 L717.3 439.7 L718.8 439.2 L720.3 438.6 L721.8 438.1 L723.3 437.6 L724.8 437.0 L726.3 436.5 L727.8 435.9 L729.3 435.4 L730.1 435.1" stroke="#0000ff"/>
<path d="M141.3 633.2 L142.8 633.1 L144.3 632.9 L145.8 632.8 L147.3 632.6 L148.8 632.5 L150.3 632.3 L151.8 632.1 L153.3 631.9 L154.8 631.8 L156.3 631.6 L157.8 631.4 L159.3 631.1 L160.8 630.9 L162.3 630.7 L163.8 630.5 L165.3 630.3 L166.8 630.0 L168.3 629.8 L169.8 629.6 L171.3 629.3 L172.8 629.0 L174.3 628.8 L175.8 628.5 L177.3 628.2 L178.8 627.9 L180.3 627.6 L181.8 627.2 L183.3 626.9 L184.8 626.6 L186.3 626.2 L187.8 625.9 L189.3 625.5 L190.8 625.1 L192.3 624.8 L193.8 624.4 L195.3 624.0 L196.8 623.6 L198.3 623.2 L199.8 622.8 L201.3 622.4 L202.8 622.0 L204.3 621.6 L205.8 621.2 L207.3 620.8 L208.8 620.3 L210.3 619.9 L211.8 619.4 L213.3 619.0 L214.8 618.5 L216.3 618.0 L217.8 617.4 L219.3 616.9 L220.8 616.3 L222.3 615.7 L223.8 615.1 L225.3 614.5 L226.8 613.9 L228.3 613.3 L229.8 612.7 L231.3 612.1 L232.8 611.5 L234.3 610.9 L235.8 610.3 L237.3 609.6 L238.8 609.0 L240.3 608.4 L241.8 607.7 L243.3 607.1 L244.8 606.4 L246.3 605.8 L247.8 605.1 L249.3 604.5 L250.8 603.8 L252.3 603.1 L253.8 602.5 L255.3 601.8 L256.8 601.1 L258.3 600.4 L259.8 599.8 L261.3 599.1 L262.8 598.4 L264.3 597.8 L265.8 597.1 L267.3 596.4 L268.8 595.7 L270.3 595.1 L271.8 594.4 L273.3 593.7 L274.8 593.0 L276.3 592.3 L277.8 591.6 L279.3 590.9 L280.8 590.2 L282.3 589.5 L283.8 588.9 L285.3 588.2 L286.8 587.5 L288.3 586.7 L289.8 586.0 L291.3 585.3 L292.8 584.6 L294.3 583.9 L295.8 583.2 L297.3 582.5 L298.8 581.8 L300.3 581.1 L301.8 580.3 L303.3 579.6 L304.8 578.8 L306.3 578.1 L307.8 577.3 L309.3 576.5 L310.8 575.7 L312.3 574.9 L313.8 574.1 L315.3 573.4 L316.8 572.6 L318.3 571.8 L319.8 571.1 L321.3 570.3 L322.8 569.6 L324.3 568.8 L325.8 568.0 L327.3 567.3 L328.8 566.5 L330.3 565.8 L331.8 565.0 L333.3 564.3 L334.8 563.5 L336.3 562.7 L337.8 562.0 L339.3 561.2 L340.8 560.5 L342.3 559.7 L343.8 558.9 L345.3 558.2 L346.8 557.4 L348.3 556.6 L349.8 555.9 L351.3 555.1 L352.8 554.4 L354.3 553.6 L355.8 552.8 L357.3 552.1 L358.8 551.3 L360.3 550.5 L361.8 549.8 L363.3 549.0 L364.8 548.2 L366.3 547.5 L367.8 546.7 L369.3 546.0 L370.8 545.2 L372.3 544.5 L373.8 543.7 L375.3 542.9 L376.8 542.2 L378.3 541.4 L379.8 540.7 L381.3 539.9 L382.8 539.2 L384.3 538.4 L385.8 537.7 L387.3 536.9 L388.8 536.2 L390.3 535.4 L391.8 534.7 L393.3 533.9 L394.8 533.2 L396.3 532.4 L397.8 531.7 L399.3 530.9 L400.8 530.2 L402.3 529.4 L403.8 528.7 L405.3 527.9 L406.8 527.2 L408.3 526.5 L409.8 525.7 L411.3 525.0 L412.8 524.2 L414.3 523.5 L415.8 522.7 L417.3 522.0 L418.8 521.2 L420.3 520.5 L421.8 519.8 L423.3 519.0 L424.8 518.3 L426.3 517.5 L427.8 516.8 L429.3 516.1 L430.8 515.3 L432.3 514.6 L433.8 513.8 L435.3 513.1 L436.8 512.4 L438.3 511.6 L439.8 510.9 L441.3 510.2 L442.8 509.4 L444.3 508.7 L445.8 508.0 L447.3 507.2 L448.8 506.5 L450.3 505.7 L451.8 505.0 L453.3 504.3 L454.8 503.5 L456.3 502.8 L457.8 502.1 L459.3 501.3 L460.8 500.6 L462.3 499.8 L463.8 499.1 L465.3 498.4 L466.8 497.6 L468.3 496.9 L469.8 496.2 L471.3 495.4 L472.8 494.7 L474.3 493.9 L475.8 493.2 L477.3 492.5 L478.8 491.7 L480.3 491.0 L481.8 490.3 L483.3 489.5 L484.8 488.8 L486.3 488.1 L487.8 487.4 L489.3 486.6 L490.8 485.9 L492.3 485.2 L493.8 484.5 L495.3 483.7 L496.8 483.0 L498.3 482.3 L499.8 481.6 L501.3 480.9 L502.8 480.2 L504.3 479.4 L505.8 478.7 L507.3 478.0 L508.8 477.3 L510.3 476.6 L511.8 475.9 L513.3 475.2 L514.8 474.5 L516.3 473.9 L517.8 473.2 L519.3 472.5 L520.8 471.8 L522.3 471.1 L523.8 470.4 L525.3 469.7 L526.8 469.0 L528.3 468.3 L529.8 467.6 L531.3 466.9 L532.8 466.2 L534.3 465.5 L535.8 464.8 L537.3 464.1 L538.8 463.4 L540.3 462.6 L541.8 461.9 L543.3 461.2 L544.8 460.5 L546.3 459.8 L547.8 459.1 L549.3 458.4 L550.8 457.7 L552.3 457.0 L553.8 456.3 L555.3 455.7 L556.8 455.0 L558.3 454.3 L559.8 453.6 L561.3 452.9 L562.8 452.2 L564.3 451.5 L565.8 450.8 L567.3 450.1 L568.8 449.4 L570.3 448.7 L571.8 448.0 L573.3 447.3 L574.8 446.6 L576.3 445.9 L577.8 445.2 L579.3 444.5 L580.8 443.8 L582.3 443.1 L583.8 442.4 L585.3 441.7 L586.8 441.0 L588.3 440.3 L589.8 439.6 L591.3 438.9 L592.8 438.2 L594.3 437.5 L595.8 436.8 L597.3 436.1 L598.8 435.4 L600.3 434.7 L601.8 434.0 L603.3 433.3 L604.8 432.6 L606.3 431.9 L607.8 431.1 L609.3 430.4 L610.8 429.7 L612.3 429.0 L613.8 428.3 L615.3 427.6 L616.8 426.9 L618.3 426.2 L619.8 425.5 L621.3 424.8 L622.8 424.1 L624.3 423.4 L625.8 422.7 L627.3 422.0 L628.8 421.3 L630.3 420.6 L631.8 419.8 L633.3 419.1 L634.8 418.4 L636.3 417.7 L637.8 417.0 L639.3 416.3 L640.8 415.6 L642.3 414.9 L643.8 414.2 L645.3 413.4 L646.8 412.7 L648.3 412.0 L649.8 411.3 L651.3 410.6 L652.8 409.9 L654.3 409.2 L655.8 408.5 L657.3 407.8 L658.8 407.1 L660.3 406.4 L661.8 405.7 L663.3 405.0 L664.8 404.3 L666.3 403.6 L667.8 402.9 L669.3 402.2 L670.8 401.5 L672.3 400.8 L673.8 400.1 L675.3 399.4 L676.8 398.8 L678.3 398.1 L679.8 397.4 L681.3 396.7 L682.8 396.0 L684.3 395.4 L685.8 394.7 L687.3 394.0 L688.8 393.4 L690.3 392.7 L691.8 392.0 L693.3 391.3 L694.8 390.7 L696.3 390.0 L697.8 389.4 L699.3 388.7 L700.8 388.0 L702.3 387.4 L703.8 386.7 L705.3 386.1 L706.8 385.4 L708.3 384.7 L709.8 384.1 L711.3 383.4 L712.8 382.8 L714.3 382.1 L715.8 381.5 L717.3 380.9 L718.8 380.2 L720.3 379.6 L721.8 378.9 L723.3 378.3 L724.8 377.6 L726.3 377.0 L727.8 376.4 L729.3 375.7 L730.1 375.4" stroke="#ff0000"/>
<path d="M141.3 583.4 L142.8 583.4 L144.3 583.4 L145.8 583.4 L147.3 583.4 L148.8 583.4 L150.3 583.4 L151.8 583.3 L153.3 583.3 L154.8 583.3 L156.3 583.3 L157.8 583.3 L159.3 583.3 L160.8 583.3 L162.3 583.3 L163.8 583.3 L165.3 583.2 L166.8 583.2 L168.3 583.2 L169.8 583.2 L171.3 583.2 L172.8 583.2 L174.3 583.2 L175.8 583.2 L177.3 583.1 L178.8 583.1 L180.3 583.1 L181.8 583.1 L183.3 583.1 L184.8 583.1 L186.3 583.0 L187.8 583.0 L189.3 583.0 L190.8 583.0 L192.3 583.0 L193.8 583.0 L195.3 582.9 L196.8 582.9 L198.3 582.9 L199.8 582.9 L201.3 582.9 L202.8 582.9 L204.3 582.8 L205.8 582.8 L207.3 582.8 L208.8 582.8 L210.3 582.8 L211.8 582.8 L213.3 582.7 L214.8 582.7 L216.3 582.7 L217.8 582.7 L219.3 582.6 L220.8 582.6 L222.3 582.6 L223.8 582.6 L225.3 582.6 L226.8 582.5 L228.3 582.5 L229.8 582.5 L231.3 582.4 L232.8 582.4 L234.3 582.4 L235.8 582.4 L237.3 582.3 L238.8 582.3 L240.3 582.3 L241.8 582.2 L243.3 582.2 L244.8 582.2 L246.3 582.1 L247.8 582.1 L249.3 582.1 L250.8 582.0 L252.3 582.0 L253.8 582.0 L255.3 581.9 L256.8 581.9 L258.3 581.9 L259.8 581.8 L261.3 581.8 L262.8 581.7 L264.3 581.7 L265.8 581.6 L267.3 581.6 L268.8 581.6 L270.3 581.5 L271.8 581.5 L273.3 581.4 L274.8 581.3 L276.3 581.3 L277.8 581.2 L279.3 581.2 L280.8 581.1 L282.3 581.1 L283.8 581.0 L285.3 580.9 L286.8 580.9 L288.3 580.8 L289.8 580.7 L291.3 580.6 L292.8 580.6 L294.3 580.5 L295.8 580.4 L297.3 580.3 L298.8 580.2 L300.3 580.1 L301.8 580.0 L303.3 579.9 L304.8 579.9 L306.3 579.8 L307.8 579.7 L309.3 579.6 L310.8 579.5 L312.3 579.4 L313.8 579.3 L315.3 579.2 L316.8 579.1 L318.3 579.0 L319.8 578.9 L321.3 578.8 L322.8 578.7 L324.3 578.6 L325.8 578.5 L327.3 578.4 L328.8 578.3 L330.3 578.2 L331.8 578.1 L333.3 578.0 L334.8 577.8 L336.3 577.7 L337.8 577.6 L339.3 577.5 L340.8 577.4 L342.3 577.3 L343.8 577.2 L345.3 577.0 L346.8 576.9 L348.3 576.8 L349.8 576.7 L351.3 576.5 L352.8 576.4 L354.3 576.3 L355.8 576.2 L357.3 576.0 L358.8 575.9 L360.3 575.8 L361.8 575.6 L363.3 575.5 L364.8 575.4 L366.3 575.3 L367.8 575.1 L369.3 575.0 L370.8 574.9 L372.3 574.7 L373.8 574.6 L375.3 574.5 L376.8 574.3 L378.3 574.2 L379.8 574.0 L381.3 573.9 L382.8 573.8 L384.3 573.6 L385.8 573.5 L387.3 573.4 L388.8 573.2 L390.3 573.1 L391.8 573.0 L393.3 572.8 L394.8 572.7 L396.3 572.5 L397.8 572.4 L399.3 572.2 L400.8 572.1 L402.3 571.9 L403.8 571.8 L405.3 571.6 L406.8 571.5 L408.3 571.3 L409.8 571.1 L411.3 571.0 L412.8 570.8 L414.3 570.6 L415.8 570.4 L417.3 570.2 L418.8 570.0 L420.3 569.8 L421.8 569.6 L423.3 569.4 L424.8 569.2 L426.3 569.0 L427.8 568.7 L429.3 568.5 L430.8 568.2 L432.3 568.0 L433.8 567.7 L435.3 567.4 L436.8 567.1 L438.3 566.8 L439.8 566.5 L441.3 566.1 L442.8 565.8 L444.3 565.4 L445.8 565.0 L447.3 564.5 L448.8 564.1 L450.3 563.6 L451.8 563.2 L453.3 562.7 L454.8 562.2 L456.3 561.7 L457.8 561.1 L459.3 560.6 L460.8 560.1 L462.3 559.5 L463.8 559.0 L465.3 558.4 L466.8 557.8 L468.3 557.3 L469.8 556.7 L471.3 556.1 L472.8 555.5 L474.3 555.0 L475.8 554.4 L477.3 553.8 L478.8 553.2 L480.3 552.6 L481.8 552.0 L483.3 551.4 L484.8 550.7 L486.3 550.1 L487.8 549.4 L489.3 548.8 L490.8 548.1 L492.3 547.4 L493.8 546.8 L495.3 546.1 L496.8 545.4 L498.3 544.7 L499.8 544.0 L501.3 543.3 L502.8 542.5 L504.3 541.8 L505.8 541.1 L507.3 540.3 L508.8 539.6 L510.3 538.8 L511.8 538.1 L513.3 537.3 L514.8 536.6 L516.3 535.8 L517.8 535.0 L519.3 534.2 L520.8 533.4 L522.3 532.7 L523.8 531.9 L525.3 531.1 L526.8 530.3 L528.3 529.5 L529.8 528.7 L531.3 527.9 L532.8 527.0 L534.3 526.2 L535.8 525.4 L537.3 524.6 L538.8 523.8 L540.3 523.0 L541.8 522.2 L543.3 521.3 L544.8 520.5 L546.3 519.6 L547.8 518.8 L549.3 517.9 L550.8 517.0 L552.3 516.2 L553.8 515.3 L555.3 514.5 L556.8 513.6 L558.3 512.8 L559.8 512.0 L561.3 511.2 L562.8 510.4 L564.3 509.6 L565.8 508.8 L567.3 508.0 L568.8 507.2 L570.3 506.4 L571.8 505.7 L573.3 504.9 L574.8 504.1 L576.3 503.4 L577.8 502.6 L579.3 501.8 L580.8 501.1 L582.3 500.3 L583.8 499.5 L585.3 498.8 L586.8 498.0 L588.3 497.3 L589.8 496.5 L591.3 495.7 L592.8 495.0 L594.3 494.2 L595.8 493.5 L597.3 492.7 L598.8 491.9 L600.3 491.2 L601.8 490.4 L603.3 489.7 L604.8 488.9 L606.3 488.1 L607.8 487.3 L609.3 486.6 L610.8 485.8 L612.3 485.0 L613.8 484.2 L615.3 483.4 L616.8 482.7 L618.3 481.9 L619.8 481.1 L621.3 480.3 L622.8 479.4 L624.3 478.6 L625.8 477.8 L627.3 477.0 L628.8 476.1 L630.3 475.3 L631.8 474.5 L633.3 473.6 L634.8 472.8 L636.3 472.0 L637.8 471.1 L639.3 470.3 L640.8 469.4 L642.3 468.6 L643.8 467.7 L645.3 466.9 L646.8 466.1 L648.3 465.2 L649.8 464.4 L651.3 463.5 L652.8 462.7 L654.3 461.9 L655.8 461.1 L657.3 460.2 L658.8 459.4 L660.3 458.6 L661.8 457.8 L663.3 457.0 L664.8 456.2 L666.3 455.4 L667.8 454.6 L669.3 453.9 L670.8 453.1 L672.3 452.4 L673.8 451.6 L675.3 450.9 L676.8 450.2 L678.3 449.4 L679.8 448.7 L681.3 448.0 L682.8 447.3 L684.3 446.6 L685.8 445.9 L687.3 445.2 L688.8 444.5 L690.3 443.8 L691.8 443.1 L693.3 442.4 L694.8 441.8 L696.3 441.1 L697.8 440.4 L699.3 439.8 L700.8 439.1 L702.3 438.4 L703.8 437.8 L705.3 437.1 L706.8 436.5 L708.3 435.8 L709.8 435.2 L711.3 434.6 L712.8 433.9 L714.3 433.3 L715.8 432.7 L717.3 432.1 L718.8 431.5 L720.3 430.9 L721.8 430.3 L723.3 429.7 L724.8 429.1 L726.3 428.5 L727.8 427.9 L729.3 427.3 L730.1 427.0" stroke="#000000" stroke-dasharray="10.5 10.5"/>
<path d="M141.3 729.1 L142.8 729.1 L144.3 729.1 L145.8 729.1 L147.3 729.1 L148.8 729.1 L150.3 729.1 L151.8 729.1 L153.3 729.1 L154.8 729.1 L156.3 729.1 L157.8 729.0 L159.3 729.0 L160.8 729.0 L162.3 729.0 L163.8 729.0 L165.3 729.0 L166.8 729.0 L168.3 729.0 L169.8 729.0 L171.3 728.9 L172.8 728.9 L174.3 728.9 L175.8 728.9 L177.3 728.9 L178.8 728.9 L180.3 728.9 L181.8 728.8 L183.3 728.8 L184.8 728.8 L186.3 728.8 L187.8 728.8 L189.3 728.8 L190.8 728.7 L192.3 728.7 L193.8 728.7 L195.3 728.7 L196.8 728.7 L198.3 728.6 L199.8 728.6 L201.3 728.6 L202.8 728.6 L204.3 728.6 L205.8 728.5 L207.3 728.5 L208.8 728.5 L210.3 728.5 L211.8 728.4 L213.3 728.4 L214.8 728.4 L216.3 728.3 L217.8 728.3 L219.3 728.3 L220.8 728.2 L222.3 728.2 L223.8 728.2 L225.3 728.1 L226.8 728.1 L228.3 728.1 L229.8 728.0 L231.3 728.0 L232.8 727.9 L234.3 727.9 L235.8 727.8 L237.3 727.8 L238.8 727.8 L240.3 727.7 L241.8 727.7 L243.3 727.6 L244.8 727.6 L246.3 727.5 L247.8 727.5 L249.3 727.5 L250.8 727.4 L252.3 727.4 L253.8 727.3 L255.3 727.3 L256.8 727.2 L258.3 727.2 L259.8 727.2 L261.3 727.1 L262.8 727.1 L264.3 727.0 L265.8 727.0 L267.3 726.9 L268.8 726.9 L270.3 726.9 L271.8 726.8 L273.3 726.8 L274.8 726.7 L276.3 726.7 L277.8 726.6 L279.3 726.6 L280.8 726.6 L282.3 726.5 L283.8 726.5 L285.3 726.4 L286.8 726.4 L288.3 726.3 L289.8 726.3 L291.3 726.2 L292.8 726.2 L294.3 726.2 L295.8 726.1 L297.3 726.1 L298.8 726.0 L300.3 726.0 L301.8 725.9 L303.3 725.8 L304.8 725.8 L306.3 725.7 L307.8 725.7 L309.3 725.6 L310.8 725.6 L312.3 725.5 L313.8 725.4 L315.3 725.4 L316.8 725.3 L318.3 725.3 L319.8 725.2 L321.3 725.1 L322.8 725.1 L324.3 725.0 L325.8 724.9 L327.3 724.9 L328.8 724.8 L330.3 724.7 L331.8 724.6 L333.3 724.6 L334.8 724.5 L336.3 724.4 L337.8 724.3 L339.3 724.2 L340.8 724.1 L342.3 724.0 L343.8 723.9 L345.3 723.8 L346.8 723.7 L348.3 723.6 L349.8 723.5 L351.3 723.4 L352.8 723.3 L354.3 723.2 L355.8 723.0 L357.3 722.9 L358.8 722.7 L360.3 722.5 L361.8 722.4 L363.3 722.2 L364.8 722.0 L366.3 721.8 L367.8 721.6 L369.3 721.4 L370.8 721.2 L372.3 720.9 L373.8 720.7 L375.3 720.5 L376.8 720.3 L378.3 720.0 L379.8 719.8 L381.3 719.6 L382.8 719.3 L384.3 719.1 L385.8 718.8 L387.3 718.5 L388.8 718.3 L390.3 718.0 L391.8 717.7 L393.3 717.4 L394.8 717.1 L396.3 716.8 L397.8 716.5 L399.3 716.2 L400.8 715.9 L402.3 715.6 L403.8 715.2 L405.3 714.9 L406.8 714.6 L408.3 714.2 L409.8 713.9 L411.3 713.5 L412.8 713.2 L414.3 712.8 L415.8 712.5 L417.3 712.1 L418.8 711.7 L420.3 711.3 L421.8 711.0 L423.3 710.6 L424.8 710.1 L426.3 709.7 L427.8 709.3 L429.3 708.8 L430.8 708.3 L432.3 707.8 L433.8 707.3 L435.3 706.8 L436.8 706.2 L438.3 705.7 L439.8 705.0 L441.3 704.4 L442.8 703.6 L444.3 702.9 L445.8 702.0 L447.3 701.1 L448.8 700.2 L450.3 699.3 L451.8 698.3 L453.3 697.3 L454.8 696.2 L456.3 695.1 L457.8 694.0 L459.3 692.9 L460.8 691.8 L462.3 690.7 L463.8 689.5 L465.3 688.2 L466.8 686.9 L468.3 685.5 L469.8 684.1 L471.3 682.6 L472.8 681.1 L474.3 679.7 L475.8 678.2 L477.3 676.7 L478.8 675.2 L480.3 673.8 L481.8 672.4 L483.3 670.9 L484.8 669.5 L486.3 668.0 L487.8 666.5 L489.3 665.1 L490.8 663.6 L492.3 662.2 L493.8 660.7 L495.3 659.3 L496.8 657.9 L498.3 656.6 L499.8 655.3 L501.3 653.9 L502.8 652.6 L504.3 651.4 L505.8 650.1 L507.3 648.8 L508.8 647.6 L510.3 646.3 L511.8 645.1 L513.3 643.9 L514.8 642.7 L516.3 641.5 L517.8 640.3 L519.3 639.1 L520.8 638.0 L522.3 636.9 L523.8 635.7 L525.3 634.6 L526.8 633.5 L528.3 632.4 L529.8 631.3 L531.3 630.2 L532.8 629.1 L534.3 628.0 L535.8 626.9 L537.3 625.8 L538.8 624.7 L540.3 623.5 L541.8 622.4 L543.3 621.2 L544.8 620.0 L546.3 618.8 L547.8 617.6 L549.3 616.3 L550.8 615.1 L552.3 613.9 L553.8 612.7 L555.3 611.5 L556.8 610.2 L558.3 609.0 L559.8 607.8 L561.3 606.6 L562.8 605.4 L564.3 604.2 L565.8 603.0 L567.3 601.8 L568.8 600.5 L570.3 599.3 L571.8 598.1 L573.3 596.9 L574.8 595.8 L576.3 594.6 L577.8 593.4 L579.3 592.3 L580.8 591.2 L582.3 590.1 L583.8 589.0 L585.3 587.9 L586.8 586.9 L588.3 585.8 L589.8 584.7 L591.3 583.7 L592.8 582.7 L594.3 581.6 L595.8 580.6 L597.3 579.6 L598.8 578.6 L600.3 577.6 L601.8 576.6 L603.3 575.6 L604.8 574.6 L606.3 573.6 L607.8 572.6 L609.3 571.6 L610.8 570.6 L612.3 569.7 L613.8 568.7 L615.3 567.7 L616.8 566.7 L618.3 565.7 L619.8 564.7 L621.3 563.7 L622.8 562.8 L624.3 561.8 L625.8 560.8 L627.3 559.9 L628.8 558.9 L630.3 557.9 L631.8 557.0 L633.3 556.0 L634.8 555.0 L636.3 554.1 L637.8 553.1 L639.3 552.2 L640.8 551.2 L642.3 550.3 L643.8 549.3 L645.3 548.4 L646.8 547.5 L648.3 546.5 L649.8 545.6 L651.3 544.7 L652.8 543.7 L654.3 542.8 L655.8 541.9 L657.3 540.9 L658.8 540.0 L660.3 539.1 L661.8 538.1 L663.3 537.2 L664.8 536.3 L666.3 535.4 L667.8 534.5 L669.3 533.5 L670.8 532.6 L672.3 531.8 L673.8 530.9 L675.3 530.0 L676.8 529.1 L678.3 528.3 L679.8 527.4 L681.3 526.6 L682.8 525.7 L684.3 524.9 L685.8 524.0 L687.3 523.2 L688.8 522.3 L690.3 521.5 L691.8 520.7 L693.3 519.8 L694.8 519.0 L696.3 518.2 L697.8 517.4 L699.3 516.5 L700.8 515.7 L702.3 514.9 L703.8 514.1 L705.3 513.3 L706.8 512.5 L708.3 511.7 L709.8 510.9 L711.3 510.1 L712.8 509.4 L714.3 508.6 L715.8 507.8 L717.3 507.0 L718.8 506.3 L720.3 505.5 L721.8 504.8 L723.3 504.0 L724.8 503.3 L726.3 502.5 L727.8 501.8 L729.3 501.1 L730.1 500.7" stroke="#0000ff" stroke-dasharray="10.5 10.5"/>
<path d="M141.3 728.8 L142.8 728.8 L144.3 728.8 L145.8 728.8 L147.3 728.8 L148.8 728.8 L150.3 728.8 L151.8 728.8 L153.3 728.8 L154.8 728.7 L156.3 728.7 L157.8 728.7 L159.3 728.7 L160.8 728.7 L162.3 728.7 L163.8 728.7 L165.3 728.7 L166.8 728.6 L168.3 728.6 L169.8 728.6 L171.3 728.6 L172.8 728.6 L174.3 728.6 L175.8 728.5 L177.3 728.5 L178.8 728.5 L180.3 728.5 L181.8 728.5 L183.3 728.4 L184.8 728.4 L186.3 728.4 L187.8 728.4 L189.3 728.4 L190.8 728.3 L192.3 728.3 L193.8 728.3 L195.3 728.3 L196.8 728.3 L198.3 728.2 L199.8 728.2 L201.3 728.2 L202.8 728.2 L204.3 728.1 L205.8 728.1 L207.3 728.1 L208.8 728.1 L210.3 728.0 L211.8 728.0 L213.3 728.0 L214.8 727.9 L216.3 727.9 L217.8 727.9 L219.3 727.8 L220.8 727.8 L222.3 727.8 L223.8 727.7 L225.3 727.7 L226.8 727.6 L228.3 727.6 L229.8 727.6 L231.3 727.5 L232.8 727.5 L234.3 727.4 L235.8 727.4 L237.3 727.3 L238.8 727.3 L240.3 727.3 L241.8 727.2 L243.3 727.2 L244.8 727.1 L246.3 727.1 L247.8 727.0 L249.3 727.0 L250.8 726.9 L252.3 726.9 L253.8 726.8 L255.3 726.8 L256.8 726.7 L258.3 726.7 L259.8 726.6 L261.3 726.6 L262.8 726.5 L264.3 726.5 L265.8 726.4 L267.3 726.4 L268.8 726.3 L270.3 726.2 L271.8 726.2 L273.3 726.1 L274.8 726.1 L276.3 726.0 L277.8 725.9 L279.3 725.9 L280.8 725.8 L282.3 725.8 L283.8 725.7 L285.3 725.6 L286.8 725.6 L288.3 725.5 L289.8 725.4 L291.3 725.4 L292.8 725.3 L294.3 725.2 L295.8 725.2 L297.3 725.1 L298.8 725.0 L300.3 724.9 L301.8 724.9 L303.3 724.8 L304.8 724.7 L306.3 724.6 L307.8 724.6 L309.3 724.5 L310.8 724.4 L312.3 724.3 L313.8 724.2 L315.3 724.2 L316.8 724.1 L318.3 724.0 L319.8 723.9 L321.3 723.8 L322.8 723.7 L324.3 723.6 L325.8 723.5 L327.3 723.4 L328.8 723.4 L330.3 723.3 L331.8 723.2 L333.3 723.1 L334.8 723.0 L336.3 722.8 L337.8 722.7 L339.3 722.6 L340.8 722.5 L342.3 722.4 L343.8 722.3 L345.3 722.1 L346.8 722.0 L348.3 721.8 L349.8 721.7 L351.3 721.5 L352.8 721.4 L354.3 721.2 L355.8 721.0 L357.3 720.8 L358.8 720.6 L360.3 720.4 L361.8 720.2 L363.3 719.9 L364.8 719.7 L366.3 719.4 L367.8 719.1 L369.3 718.8 L370.8 718.5 L372.3 718.2 L373.8 717.9 L375.3 717.6 L376.8 717.2 L378.3 716.9 L379.8 716.6 L381.3 716.2 L382.8 715.8 L384.3 715.4 L385.8 714.9 L387.3 714.5 L388.8 714.0 L390.3 713.5 L391.8 713.0 L393.3 712.5 L394.8 711.9 L396.3 711.4 L397.8 710.8 L399.3 710.2 L400.8 709.6 L402.3 709.0 L403.8 708.4 L405.3 707.7 L406.8 707.1 L408.3 706.4 L409.8 705.8 L411.3 705.1 L412.8 704.4 L414.3 703.7 L415.8 702.9 L417.3 702.2 L418.8 701.4 L420.3 700.6 L421.8 699.8 L423.3 698.9 L424.8 698.1 L426.3 697.2 L427.8 696.2 L429.3 695.3 L430.8 694.3 L432.3 693.3 L433.8 692.2 L435.3 691.2 L436.8 690.1 L438.3 688.9 L439.8 687.7 L441.3 686.4 L442.8 685.0 L444.3 683.6 L445.8 682.0 L447.3 680.4 L448.8 678.7 L450.3 677.0 L451.8 675.3 L453.3 673.5 L454.8 671.7 L456.3 669.8 L457.8 668.0 L459.3 666.2 L460.8 664.3 L462.3 662.5 L463.8 660.7 L465.3 658.8 L466.8 656.9 L468.3 654.9 L469.8 652.9 L471.3 650.9 L472.8 648.9 L474.3 646.9 L475.8 644.9 L477.3 642.9 L478.8 640.9 L480.3 638.9 L481.8 636.9 L483.3 634.8 L484.8 632.8 L486.3 630.7 L487.8 628.6 L489.3 626.6 L490.8 624.5 L492.3 622.5 L493.8 620.4 L495.3 618.5 L496.8 616.5 L498.3 614.6 L499.8 612.8 L501.3 610.9 L502.8 609.1 L504.3 607.4 L505.8 605.6 L507.3 603.8 L508.8 602.1 L510.3 600.4 L511.8 598.7 L513.3 597.1 L514.8 595.4 L516.3 593.7 L517.8 592.1 L519.3 590.5 L520.8 588.8 L522.3 587.2 L523.8 585.6 L525.3 584.1 L526.8 582.5 L528.3 580.9 L529.8 579.4 L531.3 577.9 L532.8 576.3 L534.3 574.8 L535.8 573.3 L537.3 571.8 L538.8 570.3 L540.3 568.8 L541.8 567.3 L543.3 565.8 L544.8 564.3 L546.3 562.8 L547.8 561.3 L549.3 559.9 L550.8 558.4 L552.3 557.0 L553.8 555.6 L555.3 554.2 L556.8 552.8 L558.3 551.5 L559.8 550.2 L561.3 548.9 L562.8 547.7 L564.3 546.5 L565.8 545.3 L567.3 544.1 L568.8 542.9 L570.3 541.7 L571.8 540.5 L573.3 539.3 L574.8 538.1 L576.3 536.9 L577.8 535.8 L579.3 534.6 L580.8 533.4 L582.3 532.2 L583.8 531.0 L585.3 529.8 L586.8 528.6 L588.3 527.4 L589.8 526.2 L591.3 525.1 L592.8 523.9 L594.3 522.7 L595.8 521.5 L597.3 520.4 L598.8 519.2 L600.3 518.0 L601.8 516.9 L603.3 515.7 L604.8 514.6 L606.3 513.4 L607.8 512.3 L609.3 511.1 L610.8 510.0 L612.3 508.8 L613.8 507.7 L615.3 506.6 L616.8 505.4 L618.3 504.3 L619.8 503.2 L621.3 502.1 L622.8 500.9 L624.3 499.8 L625.8 498.7 L627.3 497.6 L628.8 496.5 L630.3 495.4 L631.8 494.3 L633.3 493.1 L634.8 492.0 L636.3 490.9 L637.8 489.8 L639.3 488.7 L640.8 487.7 L642.3 486.6 L643.8 485.5 L645.3 484.4 L646.8 483.3 L648.3 482.2 L649.8 481.1 L651.3 480.1 L652.8 479.0 L654.3 477.9 L655.8 476.8 L657.3 475.8 L658.8 474.7 L660.3 473.7 L661.8 472.6 L663.3 471.5 L664.8 470.5 L666.3 469.4 L667.8 468.4 L669.3 467.4 L670.8 466.3 L672.3 465.3 L673.8 464.2 L675.3 463.2 L676.8 462.2 L678.3 461.2 L679.8 460.2 L681.3 459.1 L682.8 458.1 L684.3 457.1 L685.8 456.1 L687.3 455.1 L688.8 454.1 L690.3 453.1 L691.8 452.1 L693.3 451.1 L694.8 450.1 L696.3 449.1 L697.8 448.1 L699.3 447.2 L700.8 446.2 L702.3 445.2 L703.8 444.2 L705.3 443.3 L706.8 442.3 L708.3 441.3 L709.8 440.4 L711.3 439.4 L712.8 438.4 L714.3 437.5 L715.8 436.5 L717.3 435.6 L718.8 434.6 L720.3 433.7 L721.8 432.8 L723.3 431.8 L724.8 430.9 L726.3 429.9 L727.8 429.0 L729.3 428.1 L730.1 427.6" stroke="#ff0000" stroke-dasharray="10.5 10.5"/>
<path d="M141.3 616.3 L142.8 616.3 L144.3 616.3 L145.8 616.3 L147.3 616.3 L148.8 616.3 L150.3 616.3 L151.8 616.3 L153.3 616.3 L154.8 616.3 L156.3 616.3 L157.8 616.3 L159.3 616.3 L160.8 616.3 L162.3 616.3 L163.8 616.2 L165.3 616.2 L166.8 616.2 L168.3 616.2 L169.8 616.2 L171.3 616.2 L172.8 616.2 L174.3 616.2 L175.8 616.2 L177.3 616.2 L178.8 616.2 L180.3 616.2 L181.8 616.1 L183.3 616.1 L184.8 616.1 L186.3 616.1 L187.8 616.1 L189.3 616.1 L190.8 616.1 L192.3 616.1 L193.8 616.1 L195.3 616.0 L196.8 616.0 L198.3 616.0 L199.8 616.0 L201.3 616.0 L202.8 616.0 L204.3 616.0 L205.8 615.9 L207.3 615.9 L208.8 615.9 L210.3 615.9 L211.8 615.9 L213.3 615.8 L214.8 615.8 L216.3 615.8 L217.8 615.8 L219.3 615.7 L220.8 615.7 L222.3 615.7 L223.8 615.6 L225.3 615.6 L226.8 615.6 L228.3 615.5 L229.8 615.5 L231.3 615.5 L232.8 615.4 L234.3 615.4 L235.8 615.3 L237.3 615.3 L238.8 615.3 L240.3 615.2 L241.8 615.2 L243.3 615.2 L244.8 615.1 L246.3 615.1 L247.8 615.0 L249.3 615.0 L250.8 615.0 L252.3 614.9 L253.8 614.9 L255.3 614.8 L256.8 614.8 L258.3 614.7 L259.8 614.7 L261.3 614.7 L262.8 614.6 L264.3 614.6 L265.8 614.6 L267.3 614.5 L268.8 614.5 L270.3 614.4 L271.8 614.4 L273.3 614.3 L274.8 614.3 L276.3 614.3 L277.8 614.2 L279.3 614.2 L280.8 614.1 L282.3 614.1 L283.8 614.0 L285.3 614.0 L286.8 613.9 L288.3 613.9 L289.8 613.8 L291.3 613.8 L292.8 613.7 L294.3 613.7 L295.8 613.6 L297.3 613.6 L298.8 613.5 L300.3 613.5 L301.8 613.4 L303.3 613.4 L304.8 613.3 L306.3 613.3 L307.8 613.2 L309.3 613.2 L310.8 613.1 L312.3 613.1 L313.8 613.0 L315.3 613.0 L316.8 612.9 L318.3 612.9 L319.8 612.8 L321.3 612.7 L322.8 612.7 L324.3 612.6 L325.8 612.6 L327.3 612.5 L328.8 612.4 L330.3 612.4 L331.8 612.3 L333.3 612.3 L334.8 612.2 L336.3 612.1 L337.8 612.1 L339.3 612.0 L340.8 612.0 L342.3 611.9 L343.8 611.8 L345.3 611.8 L346.8 611.7 L348.3 611.6 L349.8 611.6 L351.3 611.5 L352.8 611.5 L354.3 611.4 L355.8 611.3 L357.3 611.3 L358.8 611.2 L360.3 611.1 L361.8 611.1 L363.3 611.0 L364.8 611.0 L366.3 610.9 L367.8 610.8 L369.3 610.8 L370.8 610.7 L372.3 610.6 L373.8 610.6 L375.3 610.5 L376.8 610.4 L378.3 610.4 L379.8 610.3 L381.3 610.2 L382.8 610.2 L384.3 610.1 L385.8 610.0 L387.3 610.0 L388.8 609.9 L390.3 609.8 L391.8 609.7 L393.3 609.6 L394.8 609.6 L396.3 609.5 L397.8 609.4 L399.3 609.3 L400.8 609.2 L402.3 609.1 L403.8 609.0 L405.3 608.9 L406.8 608.8 L408.3 608.8 L409.8 608.7 L411.3 608.6 L412.8 608.5 L414.3 608.4 L415.8 608.3 L417.3 608.2 L418.8 608.1 L420.3 608.0 L421.8 607.9 L423.3 607.8 L424.8 607.7 L426.3 607.6 L427.8 607.5 L429.3 607.3 L430.8 607.2 L432.3 607.1 L433.8 607.0 L435.3 606.9 L436.8 606.8 L438.3 606.7 L439.8 606.6 L441.3 606.5 L442.8 606.4 L444.3 606.3 L445.8 606.2 L447.3 606.1 L448.8 606.0 L450.3 605.9 L451.8 605.8 L453.3 605.7 L454.8 605.6 L456.3 605.5 L457.8 605.5 L459.3 605.4 L460.8 605.3 L462.3 605.2 L463.8 605.1 L465.3 605.0 L466.8 604.9 L468.3 604.8 L469.8 604.7 L471.3 604.6 L472.8 604.5 L474.3 604.4 L475.8 604.3 L477.3 604.2 L478.8 604.1 L480.3 604.0 L481.8 603.9 L483.3 603.8 L484.8 603.7 L486.3 603.6 L487.8 603.5 L489.3 603.4 L490.8 603.2 L492.3 603.1 L493.8 603.0 L495.3 602.9 L496.8 602.8 L498.3 602.7 L499.8 602.6 L501.3 602.5 L502.8 602.3 L504.3 602.2 L505.8 602.1 L507.3 602.0 L508.8 601.9 L510.3 601.8 L511.8 601.6 L513.3 601.5 L514.8 601.4 L516.3 601.3 L517.8 601.2 L519.3 601.0 L520.8 600.9 L522.3 600.8 L523.8 600.7 L525.3 600.5 L526.8 600.4 L528.3 600.3 L529.8 600.1 L531.3 600.0 L532.8 599.9 L534.3 599.7 L535.8 599.6 L537.3 599.5 L538.8 599.3 L540.3 599.2 L541.8 599.0 L543.3 598.9 L544.8 598.7 L546.3 598.6 L547.8 598.4 L549.3 598.2 L550.8 598.1 L552.3 597.9 L553.8 597.7 L555.3 597.6 L556.8 597.4 L558.3 597.2 L559.8 597.0 L561.3 596.8 L562.8 596.6 L564.3 596.4 L565.8 596.2 L567.3 596.0 L568.8 595.7 L570.3 595.5 L571.8 595.3 L573.3 595.0 L574.8 594.8 L576.3 594.6 L577.8 594.3 L579.3 594.1 L580.8 593.9 L582.3 593.6 L583.8 593.4 L585.3 593.2 L586.8 592.9 L588.3 592.7 L589.8 592.5 L591.3 592.3 L592.8 592.0 L594.3 591.8 L595.8 591.6 L597.3 591.4 L598.8 591.1 L600.3 590.9 L601.8 590.7 L603.3 590.4 L604.8 590.2 L606.3 589.9 L607.8 589.7 L609.3 589.4 L610.8 589.1 L612.3 588.8 L613.8 588.5 L615.3 588.2 L616.8 587.9 L618.3 587.6 L619.8 587.2 L621.3 586.9 L622.8 586.5 L624.3 586.1 L625.8 585.7 L627.3 585.3 L628.8 584.8 L630.3 584.4 L631.8 583.9 L633.3 583.5 L634.8 583.0 L636.3 582.5 L637.8 582.0 L639.3 581.5 L640.8 581.0 L642.3 580.4 L643.8 579.9 L645.3 579.4 L646.8 578.8 L648.3 578.2 L649.8 577.6 L651.3 577.0 L652.8 576.4 L654.3 575.8 L655.8 575.1 L657.3 574.5 L658.8 573.8 L660.3 573.2 L661.8 572.5 L663.3 571.8 L664.8 571.1 L666.3 570.4 L667.8 569.7 L669.3 569.0 L670.8 568.2 L672.3 567.5 L673.8 566.8 L675.3 566.0 L676.8 565.3 L678.3 564.5 L679.8 563.8 L681.3 563.0 L682.8 562.2 L684.3 561.4 L685.8 560.6 L687.3 559.7 L688.8 558.9 L690.3 558.1 L691.8 557.2 L693.3 556.3 L694.8 555.5 L696.3 554.6 L697.8 553.7 L699.3 552.8 L700.8 552.0 L702.3 551.1 L703.8 550.2 L705.3 549.3 L706.8 548.3 L708.3 547.4 L709.8 546.5 L711.3 545.5 L712.8 544.6 L714.3 543.6 L715.8 542.6 L717.3 541.6 L718.8 540.5 L720.3 539.5 L721.8 538.4 L723.3 537.3 L724.8 536.1 L726.3 535.0 L727.8 533.8 L729.3 532.6 L730.1 532.0" stroke="#000000" stroke-dasharray="0 11.15 9.2 11.15" stroke-linecap="round"/>
<path d="M141.3 732.3 L142.8 732.3 L144.3 732.3 L145.8 732.3 L147.3 732.3 L148.8 732.3 L150.3 732.3 L151.8 732.3 L153.3 732.3 L154.8 732.3 L156.3 732.3 L157.8 732.3 L159.3 732.3 L160.8 732.3 L162.3 732.3 L163.8 732.3 L165.3 732.3 L166.8 732.3 L168.3 732.3 L169.8 732.3 L171.3 732.3 L172.8 732.3 L174.3 732.3 L175.8 732.3 L177.3 732.3 L178.8 732.3 L180.3 732.3 L181.8 732.3 L183.3 732.3 L184.8 732.3 L186.3 732.3 L187.8 732.3 L189.3 732.3 L190.8 732.3 L192.3 732.3 L193.8 732.3 L195.3 732.3 L196.8 732.2 L198.3 732.2 L199.8 732.2 L201.3 732.2 L202.8 732.2 L204.3 732.2 L205.8 732.2 L207.3 732.2 L208.8 732.2 L210.3 732.2 L211.8 732.2 L213.3 732.2 L214.8 732.2 L216.3 732.2 L217.8 732.2 L219.3 732.2 L220.8 732.2 L222.3 732.2 L223.8 732.2 L225.3 732.2 L226.8 732.2 L228.3 732.2 L229.8 732.2 L231.3 732.2 L232.8 732.2 L234.3 732.2 L235.8 732.2 L237.3 732.2 L238.8 732.2 L240.3 732.2 L241.8 732.2 L243.3 732.2 L244.8 732.2 L246.3 732.1 L247.8 732.1 L249.3 732.1 L250.8 732.1 L252.3 732.1 L253.8 732.1 L255.3 732.1 L256.8 732.1 L258.3 732.1 L259.8 732.1 L261.3 732.1 L262.8 732.1 L264.3 732.1 L265.8 732.1 L267.3 732.1 L268.8 732.1 L270.3 732.1 L271.8 732.1 L273.3 732.1 L274.8 732.1 L276.3 732.1 L277.8 732.1 L279.3 732.1 L280.8 732.1 L282.3 732.1 L283.8 732.0 L285.3 732.0 L286.8 732.0 L288.3 732.0 L289.8 732.0 L291.3 732.0 L292.8 732.0 L294.3 732.0 L295.8 732.0 L297.3 732.0 L298.8 732.0 L300.3 732.0 L301.8 732.0 L303.3 732.0 L304.8 732.0 L306.3 731.9 L307.8 731.9 L309.3 731.9 L310.8 731.9 L312.3 731.9 L313.8 731.9 L315.3 731.9 L316.8 731.9 L318.3 731.9 L319.8 731.9 L321.3 731.9 L322.8 731.9 L324.3 731.9 L325.8 731.8 L327.3 731.8 L328.8 731.8 L330.3 731.8 L331.8 731.8 L333.3 731.8 L334.8 731.8 L336.3 731.8 L337.8 731.8 L339.3 731.8 L340.8 731.7 L342.3 731.7 L343.8 731.7 L345.3 731.7 L346.8 731.7 L348.3 731.7 L349.8 731.7 L351.3 731.7 L352.8 731.7 L354.3 731.6 L355.8 731.6 L357.3 731.6 L358.8 731.6 L360.3 731.6 L361.8 731.6 L363.3 731.5 L364.8 731.5 L366.3 731.5 L367.8 731.5 L369.3 731.5 L370.8 731.5 L372.3 731.4 L373.8 731.4 L375.3 731.4 L376.8 731.4 L378.3 731.4 L379.8 731.4 L381.3 731.3 L382.8 731.3 L384.3 731.3 L385.8 731.3 L387.3 731.3 L388.8 731.2 L390.3 731.2 L391.8 731.2 L393.3 731.2 L394.8 731.1 L396.3 731.1 L397.8 731.1 L399.3 731.1 L400.8 731.1 L402.3 731.0 L403.8 731.0 L405.3 731.0 L406.8 731.0 L408.3 730.9 L409.8 730.9 L411.3 730.9 L412.8 730.9 L414.3 730.8 L415.8 730.8 L417.3 730.8 L418.8 730.8 L420.3 730.7 L421.8 730.7 L423.3 730.7 L424.8 730.7 L426.3 730.6 L427.8 730.6 L429.3 730.6 L430.8 730.5 L432.3 730.5 L433.8 730.5 L435.3 730.5 L436.8 730.4 L438.3 730.4 L439.8 730.4 L441.3 730.3 L442.8 730.3 L444.3 730.3 L445.8 730.3 L447.3 730.2 L448.8 730.2 L450.3 730.2 L451.8 730.1 L453.3 730.1 L454.8 730.1 L456.3 730.0 L457.8 730.0 L459.3 730.0 L460.8 729.9 L462.3 729.9 L463.8 729.9 L465.3 729.8 L466.8 729.8 L468.3 729.7 L469.8 729.7 L471.3 729.7 L472.8 729.6 L474.3 729.6 L475.8 729.5 L477.3 729.5 L478.8 729.5 L480.3 729.4 L481.8 729.4 L483.3 729.3 L484.8 729.3 L486.3 729.3 L487.8 729.2 L489.3 729.2 L490.8 729.1 L492.3 729.1 L493.8 729.1 L495.3 729.0 L496.8 729.0 L498.3 728.9 L499.8 728.9 L501.3 728.8 L502.8 728.8 L504.3 728.7 L505.8 728.7 L507.3 728.7 L508.8 728.6 L510.3 728.6 L511.8 728.5 L513.3 728.5 L514.8 728.4 L516.3 728.4 L517.8 728.3 L519.3 728.2 L520.8 728.2 L522.3 728.1 L523.8 728.1 L525.3 728.0 L526.8 728.0 L528.3 727.9 L529.8 727.9 L531.3 727.8 L532.8 727.7 L534.3 727.7 L535.8 727.6 L537.3 727.6 L538.8 727.5 L540.3 727.4 L541.8 727.4 L543.3 727.3 L544.8 727.2 L546.3 727.2 L547.8 727.1 L549.3 727.0 L550.8 727.0 L552.3 726.9 L553.8 726.8 L555.3 726.7 L556.8 726.6 L558.3 726.6 L559.8 726.5 L561.3 726.4 L562.8 726.3 L564.3 726.2 L565.8 726.1 L567.3 726.0 L568.8 725.9 L570.3 725.8 L571.8 725.6 L573.3 725.5 L574.8 725.4 L576.3 725.2 L577.8 725.1 L579.3 724.9 L580.8 724.7 L582.3 724.6 L583.8 724.3 L585.3 724.1 L586.8 723.8 L588.3 723.4 L589.8 723.1 L591.3 722.7 L592.8 722.3 L594.3 721.9 L595.8 721.5 L597.3 721.0 L598.8 720.6 L600.3 720.1 L601.8 719.7 L603.3 719.2 L604.8 718.7 L606.3 718.1 L607.8 717.5 L609.3 716.9 L610.8 716.3 L612.3 715.6 L613.8 715.0 L615.3 714.3 L616.8 713.6 L618.3 713.0 L619.8 712.2 L621.3 711.5 L622.8 710.8 L624.3 710.0 L625.8 709.2 L627.3 708.4 L628.8 707.6 L630.3 706.8 L631.8 706.0 L633.3 705.1 L634.8 704.2 L636.3 703.4 L637.8 702.5 L639.3 701.6 L640.8 700.6 L642.3 699.7 L643.8 698.7 L645.3 697.8 L646.8 696.8 L648.3 695.7 L649.8 694.7 L651.3 693.6 L652.8 692.5 L654.3 691.4 L655.8 690.2 L657.3 689.0 L658.8 687.8 L660.3 686.5 L661.8 685.2 L663.3 683.9 L664.8 682.6 L666.3 681.3 L667.8 680.0 L669.3 678.7 L670.8 677.5 L672.3 676.2 L673.8 675.0 L675.3 673.7 L676.8 672.5 L678.3 671.3 L679.8 670.0 L681.3 668.8 L682.8 667.6 L684.3 666.4 L685.8 665.2 L687.3 664.0 L688.8 662.7 L690.3 661.5 L691.8 660.3 L693.3 659.0 L694.8 657.8 L696.3 656.5 L697.8 655.2 L699.3 654.0 L700.8 652.7 L702.3 651.4 L703.8 650.1 L705.3 648.8 L706.8 647.6 L708.3 646.3 L709.8 645.0 L711.3 643.7 L712.8 642.4 L714.3 641.0 L715.8 639.7 L717.3 638.4 L718.8 637.1 L720.3 635.8 L721.8 634.4 L723.3 633.1 L724.8 631.8 L726.3 630.4 L727.8 629.1 L729.3 627.7 L730.1 627.0" stroke="#0000ff" stroke-dasharray="0 11.15 9.2 11.15" stroke-linecap="round"/>
<path d="M141.3 732.2 L142.8 732.2 L144.3 732.2 L145.8 732.2 L147.3 732.2 L148.8 732.2 L150.3 732.2 L151.8 732.2 L153.3 732.2 L154.8 732.2 L156.3 732.2 L157.8 732.2 L159.3 732.2 L160.8 732.2 L162.3 732.2 L163.8 732.2 L165.3 732.2 L166.8 732.2 L168.3 732.2 L169.8 732.2 L171.3 732.2 L172.8 732.2 L174.3 732.2 L175.8 732.2 L177.3 732.2 L178.8 732.2 L180.3 732.2 L181.8 732.2 L183.3 732.2 L184.8 732.2 L186.3 732.2 L187.8 732.2 L189.3 732.2 L190.8 732.2 L192.3 732.2 L193.8 732.2 L195.3 732.2 L196.8 732.1 L198.3 732.1 L199.8 732.1 L201.3 732.1 L202.8 732.1 L204.3 732.1 L205.8 732.1 L207.3 732.1 L208.8 732.1 L210.3 732.1 L211.8 732.1 L213.3 732.1 L214.8 732.1 L216.3 732.1 L217.8 732.1 L219.3 732.1 L220.8 732.1 L222.3 732.1 L223.8 732.1 L225.3 732.1 L226.8 732.1 L228.3 732.1 L229.8 732.1 L231.3 732.1 L232.8 732.1 L234.3 732.1 L235.8 732.1 L237.3 732.1 L238.8 732.1 L240.3 732.1 L241.8 732.1 L243.3 732.0 L244.8 732.0 L246.3 732.0 L247.8 732.0 L249.3 732.0 L250.8 732.0 L252.3 732.0 L253.8 732.0 L255.3 732.0 L256.8 732.0 L258.3 732.0 L259.8 732.0 L261.3 732.0 L262.8 732.0 L264.3 732.0 L265.8 732.0 L267.3 732.0 L268.8 732.0 L270.3 732.0 L271.8 732.0 L273.3 732.0 L274.8 731.9 L276.3 731.9 L277.8 731.9 L279.3 731.9 L280.8 731.9 L282.3 731.9 L283.8 731.9 L285.3 731.9 L286.8 731.9 L288.3 731.9 L289.8 731.9 L291.3 731.9 L292.8 731.8 L294.3 731.8 L295.8 731.8 L297.3 731.8 L298.8 731.8 L300.3 731.8 L301.8 731.8 L303.3 731.8 L304.8 731.8 L306.3 731.7 L307.8 731.7 L309.3 731.7 L310.8 731.7 L312.3 731.7 L313.8 731.7 L315.3 731.7 L316.8 731.7 L318.3 731.6 L319.8 731.6 L321.3 731.6 L322.8 731.6 L324.3 731.6 L325.8 731.6 L327.3 731.6 L328.8 731.5 L330.3 731.5 L331.8 731.5 L333.3 731.5 L334.8 731.5 L336.3 731.5 L337.8 731.4 L339.3 731.4 L340.8 731.4 L342.3 731.4 L343.8 731.4 L345.3 731.3 L346.8 731.3 L348.3 731.3 L349.8 731.3 L351.3 731.2 L352.8 731.2 L354.3 731.2 L355.8 731.2 L357.3 731.1 L358.8 731.1 L360.3 731.1 L361.8 731.0 L363.3 731.0 L364.8 730.9 L366.3 730.9 L367.8 730.9 L369.3 730.8 L370.8 730.8 L372.3 730.8 L373.8 730.7 L375.3 730.7 L376.8 730.7 L378.3 730.6 L379.8 730.6 L381.3 730.6 L382.8 730.5 L384.3 730.5 L385.8 730.4 L387.3 730.4 L388.8 730.4 L390.3 730.3 L391.8 730.3 L393.3 730.3 L394.8 730.2 L396.3 730.2 L397.8 730.2 L399.3 730.1 L400.8 730.1 L402.3 730.1 L403.8 730.0 L405.3 730.0 L406.8 729.9 L408.3 729.9 L409.8 729.9 L411.3 729.8 L412.8 729.8 L414.3 729.7 L415.8 729.7 L417.3 729.7 L418.8 729.6 L420.3 729.6 L421.8 729.5 L423.3 729.5 L424.8 729.4 L426.3 729.4 L427.8 729.4 L429.3 729.3 L430.8 729.3 L432.3 729.2 L433.8 729.2 L435.3 729.1 L436.8 729.1 L438.3 729.0 L439.8 729.0 L441.3 728.9 L442.8 728.9 L444.3 728.8 L445.8 728.7 L447.3 728.7 L448.8 728.6 L450.3 728.6 L451.8 728.5 L453.3 728.4 L454.8 728.4 L456.3 728.3 L457.8 728.3 L459.3 728.2 L460.8 728.1 L462.3 728.1 L463.8 728.0 L465.3 727.9 L466.8 727.9 L468.3 727.8 L469.8 727.7 L471.3 727.6 L472.8 727.6 L474.3 727.5 L475.8 727.4 L477.3 727.3 L478.8 727.2 L480.3 727.2 L481.8 727.1 L483.3 727.0 L484.8 726.9 L486.3 726.8 L487.8 726.7 L489.3 726.6 L490.8 726.6 L492.3 726.5 L493.8 726.4 L495.3 726.3 L496.8 726.2 L498.3 726.1 L499.8 726.0 L501.3 725.9 L502.8 725.8 L504.3 725.7 L505.8 725.6 L507.3 725.5 L508.8 725.4 L510.3 725.3 L511.8 725.2 L513.3 725.0 L514.8 724.9 L516.3 724.8 L517.8 724.7 L519.3 724.5 L520.8 724.4 L522.3 724.3 L523.8 724.1 L525.3 724.0 L526.8 723.8 L528.3 723.7 L529.8 723.5 L531.3 723.4 L532.8 723.2 L534.3 723.0 L535.8 722.8 L537.3 722.6 L538.8 722.4 L540.3 722.2 L541.8 722.0 L543.3 721.7 L544.8 721.4 L546.3 721.1 L547.8 720.7 L549.3 720.4 L550.8 720.0 L552.3 719.5 L553.8 719.1 L555.3 718.7 L556.8 718.2 L558.3 717.8 L559.8 717.3 L561.3 716.9 L562.8 716.4 L564.3 715.9 L565.8 715.4 L567.3 714.9 L568.8 714.4 L570.3 713.8 L571.8 713.3 L573.3 712.7 L574.8 712.1 L576.3 711.5 L577.8 710.9 L579.3 710.2 L580.8 709.5 L582.3 708.9 L583.8 708.1 L585.3 707.4 L586.8 706.6 L588.3 705.8 L589.8 704.9 L591.3 704.0 L592.8 703.1 L594.3 702.2 L595.8 701.2 L597.3 700.2 L598.8 699.2 L600.3 698.0 L601.8 696.9 L603.3 695.6 L604.8 694.3 L606.3 692.9 L607.8 691.5 L609.3 690.0 L610.8 688.5 L612.3 687.0 L613.8 685.5 L615.3 684.0 L616.8 682.4 L618.3 680.9 L619.8 679.3 L621.3 677.7 L622.8 676.1 L624.3 674.4 L625.8 672.6 L627.3 670.8 L628.8 668.9 L630.3 666.8 L631.8 664.7 L633.3 662.4 L634.8 660.1 L636.3 657.7 L637.8 655.3 L639.3 652.9 L640.8 650.5 L642.3 648.0 L643.8 645.6 L645.3 643.3 L646.8 640.9 L648.3 638.6 L649.8 636.2 L651.3 633.8 L652.8 631.5 L654.3 629.1 L655.8 626.7 L657.3 624.3 L658.8 621.9 L660.3 619.5 L661.8 617.1 L663.3 614.6 L664.8 612.1 L666.3 609.6 L667.8 607.0 L669.3 604.4 L670.8 601.9 L672.3 599.4 L673.8 597.0 L675.3 594.7 L676.8 592.5 L678.3 590.4 L679.8 588.4 L681.3 586.4 L682.8 584.5 L684.3 582.7 L685.8 580.9 L687.3 579.1 L688.8 577.3 L690.3 575.6 L691.8 573.9 L693.3 572.1 L694.8 570.4 L696.3 568.6 L697.8 566.8 L699.3 565.0 L700.8 563.2 L702.3 561.3 L703.8 559.5 L705.3 557.6 L706.8 555.7 L708.3 553.9 L709.8 552.0 L711.3 550.2 L712.8 548.4 L714.3 546.6 L715.8 544.8 L717.3 543.1 L718.8 541.5 L720.3 539.9 L721.8 538.3 L723.3 536.7 L724.8 535.2 L726.3 533.7 L727.8 532.2 L729.3 530.8 L730.1 530.0" stroke="#ff0000" stroke-dasharray="0 11.15 9.2 11.15" stroke-linecap="round"/>
</g>
<g fill="none" stroke="#000" stroke-width="1.6">
<rect x="141.30" y="2.30" width="594.70" height="735.45"/>
<path d="M141.30 369.70 H736.00"/>
<path d="M200.77 2.30 v5.50 M200.77 364.20 v11.00 M200.77 737.75 v-5.50 M260.24 2.30 v9.00 M260.24 360.70 v18.00 M260.24 737.75 v-9.00 M319.71 2.30 v5.50 M319.71 364.20 v11.00 M319.71 737.75 v-5.50 M379.18 2.30 v9.00 M379.18 360.70 v18.00 M379.18 737.75 v-9.00 M438.65 2.30 v5.50 M438.65 364.20 v11.00 M438.65 737.75 v-5.50 M498.12 2.30 v9.00 M498.12 360.70 v18.00 M498.12 737.75 v-9.00 M557.59 2.30 v5.50 M557.59 364.20 v11.00 M557.59 737.75 v-5.50 M617.06 2.30 v9.00 M617.06 360.70 v18.00 M617.06 737.75 v-9.00 M676.53 2.30 v5.50 M676.53 364.20 v11.00 M676.53 737.75 v-5.50 M141.30 308.47 h9.00 M736.00 308.47 h-9.00 M141.30 247.23 h5.50 M736.00 247.23 h-5.50 M141.30 186.00 h9.00 M736.00 186.00 h-9.00 M141.30 124.77 h5.50 M736.00 124.77 h-5.50 M141.30 63.53 h9.00 M736.00 63.53 h-9.00 M141.30 691.74 h5.50 M736.00 691.74 h-5.50 M141.30 645.74 h9.00 M736.00 645.74 h-9.00 M141.30 599.73 h5.50 M736.00 599.73 h-5.50 M141.30 553.73 h9.00 M736.00 553.73 h-9.00 M141.30 507.72 h5.50 M736.00 507.72 h-5.50 M141.30 461.71 h9.00 M736.00 461.71 h-9.00 M141.30 415.71 h5.50 M736.00 415.71 h-5.50"/>
</g>
<g fill="none" stroke-width="3.3">
<path d="M186.1 46.5 H223.1" stroke="#000"/>
<path d="M186.1 75.7 H223.1" stroke="#000" stroke-dasharray="10.5 10.5"/>
<path d="M186.1 104.9 H217.5" stroke="#000" stroke-dasharray="0 11.05 9.2 11.05" stroke-linecap="round"/>
<path d="M186.1 413.9 H223.1" stroke="#000"/>
<path d="M186.1 443.1 H223.1" stroke="#000" stroke-dasharray="10.5 10.5"/>
<path d="M186.1 472.3 H217.5" stroke="#000" stroke-dasharray="0 11.05 9.2 11.05" stroke-linecap="round"/>
</g>
<text x="68.5" y="317.6" text-anchor="start" style="font-size:35.5px" textLength="52.2" lengthAdjust="spacingAndGlyphs">100</text>
<text x="68.5" y="195.1" text-anchor="start" style="font-size:35.5px" textLength="52.2" lengthAdjust="spacingAndGlyphs">200</text>
<text x="68.5" y="72.6" text-anchor="start" style="font-size:35.5px" textLength="52.2" lengthAdjust="spacingAndGlyphs">300</text>
<text x="103.3" y="746.9" text-anchor="start" style="font-size:35.5px" textLength="17.4" lengthAdjust="spacingAndGlyphs">0</text>
<text x="68.5" y="654.8" text-anchor="start" style="font-size:35.5px" textLength="52.2" lengthAdjust="spacingAndGlyphs">200</text>
<text x="68.5" y="562.8" text-anchor="start" style="font-size:35.5px" textLength="52.2" lengthAdjust="spacingAndGlyphs">400</text>
<text x="68.5" y="470.8" text-anchor="start" style="font-size:35.5px" textLength="52.2" lengthAdjust="spacingAndGlyphs">600</text>
<text x="132.8" y="782.0" text-anchor="start" style="font-size:35.5px" textLength="17.1" lengthAdjust="spacingAndGlyphs">0</text>
<text x="238.7" y="782.0" text-anchor="start" style="font-size:35.5px" textLength="43.0" lengthAdjust="spacingAndGlyphs">0.2</text>
<text x="357.7" y="782.0" text-anchor="start" style="font-size:35.5px" textLength="43.0" lengthAdjust="spacingAndGlyphs">0.4</text>
<text x="476.6" y="782.0" text-anchor="start" style="font-size:35.5px" textLength="43.0" lengthAdjust="spacingAndGlyphs">0.6</text>
<text x="595.6" y="782.0" text-anchor="start" style="font-size:35.5px" textLength="43.0" lengthAdjust="spacingAndGlyphs">0.8</text>
<text x="727.5" y="782.0" text-anchor="start" style="font-size:35.5px" textLength="17.1" lengthAdjust="spacingAndGlyphs">1</text>
<text x="364.2" y="831.8" text-anchor="start" font-style="italic" style="font-size:34px" textLength="15.4" lengthAdjust="spacingAndGlyphs">e</text>
<text x="381.6" y="831.8" text-anchor="start" font-style="italic" style="font-size:35px" textLength="24.0" lengthAdjust="spacingAndGlyphs">B</text>
<path d="M421.5 806.1 H416.9 V839.3 H421.5" fill="none" stroke="#000" stroke-width="1.4" stroke-linejoin="miter"/>
<text x="422.6" y="831.8" text-anchor="start" style="font-size:35px" textLength="67.0" lengthAdjust="spacingAndGlyphs">GeV</text>
<text x="489.6" y="818.8" text-anchor="start" style="font-size:21.5px" class="s">2</text>
<path d="M505.3 806.1 H509.9 V839.3 H505.3" fill="none" stroke="#000" stroke-width="1.4" stroke-linejoin="miter"/>
<g transform="translate(38.2 300.9) rotate(-90)">
<path d="M0 -9.2 H20.3" fill="none" stroke="#000" stroke-width="1.4" stroke-linejoin="miter"/>
<path d="M40.4 -25.8 L33 -9.2 L40.4 7.4" fill="none" stroke="#000" stroke-width="1.4" stroke-linejoin="miter"/>
<text x="43.3" y="0.0" text-anchor="start" font-style="italic" style="font-size:34px" >q</text>
<path d="M47.9 -21 H57.1" fill="none" stroke="#000" stroke-width="1.4" stroke-linejoin="miter"/>
<text x="57.9" y="0.0" text-anchor="start" font-style="italic" style="font-size:34px" >q</text>
<path d="M77.1 -25.8 L84.3 -9.2 L77.1 7.4" fill="none" stroke="#000" stroke-width="1.4" stroke-linejoin="miter"/>
<text x="87.6" y="-17.4" text-anchor="start" style="font-size:23.5px" class="s">1</text>
<path d="M104.6 -12.6 L116.4 -35.4" fill="none" stroke="#000" stroke-width="1.25"/>
<text x="116.4" y="-17.4" text-anchor="start" style="font-size:23.5px" class="s">3</text>
<path d="M151.5 -25.7 H146.9 V7.5 H151.5" fill="none" stroke="#000" stroke-width="1.4" stroke-linejoin="miter"/>
<text x="151.2" y="0.0" text-anchor="start" style="font-size:35px" textLength="72.6" lengthAdjust="spacingAndGlyphs">MeV</text>
<path d="M223.2 -25.7 H227.8 V7.5 H223.2" fill="none" stroke="#000" stroke-width="1.4" stroke-linejoin="miter"/>
</g>
<g transform="translate(38.2 625.0) rotate(-90)">
<text x="-0.5" y="0.0" text-anchor="start" font-style="italic" style="font-size:36.5px" textLength="27.5" lengthAdjust="spacingAndGlyphs">M</text>
<text x="31.0" y="5.5" text-anchor="start" font-style="italic" style="font-size:24px" class="s">i</text>
<path d="M63.5 -25.7 H58.9 V7.5 H63.5" fill="none" stroke="#000" stroke-width="1.4" stroke-linejoin="miter"/>
<text x="62.2" y="0.0" text-anchor="start" style="font-size:35px" textLength="72.6" lengthAdjust="spacingAndGlyphs">MeV</text>
<path d="M134.6 -25.7 H139.2 V7.5 H134.6" fill="none" stroke="#000" stroke-width="1.4" stroke-linejoin="miter"/>
</g>
<text x="235.8" y="55.6" text-anchor="start" font-style="italic" style="font-size:36px" class="t" textLength="24.2" lengthAdjust="spacingAndGlyphs">T</text>
<path d="M273.9 43.8 H296.6 M273.9 50.3 H296.6" fill="none" stroke="#000" stroke-width="1.4" stroke-linejoin="miter"/>
<text x="307.4" y="55.6" text-anchor="start" style="font-size:35.5px" textLength="51.4" lengthAdjust="spacingAndGlyphs">190</text>
<text x="370.6" y="55.6" text-anchor="start" style="font-size:35.5px" textLength="70.8" lengthAdjust="spacingAndGlyphs">MeV</text>
<text x="235.8" y="84.8" text-anchor="start" font-style="italic" style="font-size:36px" class="t" textLength="24.2" lengthAdjust="spacingAndGlyphs">T</text>
<path d="M273.9 73.0 H296.6 M273.9 79.5 H296.6" fill="none" stroke="#000" stroke-width="1.4" stroke-linejoin="miter"/>
<text x="307.4" y="84.8" text-anchor="start" style="font-size:35.5px" textLength="51.4" lengthAdjust="spacingAndGlyphs">240</text>
<text x="235.8" y="114.0" text-anchor="start" font-style="italic" style="font-size:36px" class="t" textLength="24.2" lengthAdjust="spacingAndGlyphs">T</text>
<path d="M273.9 102.2 H296.6 M273.9 108.7 H296.6" fill="none" stroke="#000" stroke-width="1.4" stroke-linejoin="miter"/>
<text x="307.4" y="114.0" text-anchor="start" style="font-size:35.5px" textLength="51.4" lengthAdjust="spacingAndGlyphs">270</text>
<text x="235.8" y="423.9" text-anchor="start" font-style="italic" style="font-size:36px" class="t" textLength="24.2" lengthAdjust="spacingAndGlyphs">T</text>
<path d="M273.9 412.1 H296.6 M273.9 418.6 H296.6" fill="none" stroke="#000" stroke-width="1.4" stroke-linejoin="miter"/>
<text x="307.4" y="423.9" text-anchor="start" style="font-size:35.5px" textLength="51.4" lengthAdjust="spacingAndGlyphs">190</text>
<text x="370.6" y="423.9" text-anchor="start" style="font-size:35.5px" textLength="70.8" lengthAdjust="spacingAndGlyphs">MeV</text>
<text x="235.8" y="453.1" text-anchor="start" font-style="italic" style="font-size:36px" class="t" textLength="24.2" lengthAdjust="spacingAndGlyphs">T</text>
<path d="M273.9 441.3 H296.6 M273.9 447.8 H296.6" fill="none" stroke="#000" stroke-width="1.4" stroke-linejoin="miter"/>
<text x="307.4" y="453.1" text-anchor="start" style="font-size:35.5px" textLength="51.4" lengthAdjust="spacingAndGlyphs">240</text>
<text x="235.8" y="482.3" text-anchor="start" font-style="italic" style="font-size:36px" class="t" textLength="24.2" lengthAdjust="spacingAndGlyphs">T</text>
<path d="M273.9 470.5 H296.6 M273.9 477.0 H296.6" fill="none" stroke="#000" stroke-width="1.4" stroke-linejoin="miter"/>
<text x="307.4" y="482.3" text-anchor="start" style="font-size:35.5px" textLength="51.4" lengthAdjust="spacingAndGlyphs">270</text>
</svg>
</body></html>
